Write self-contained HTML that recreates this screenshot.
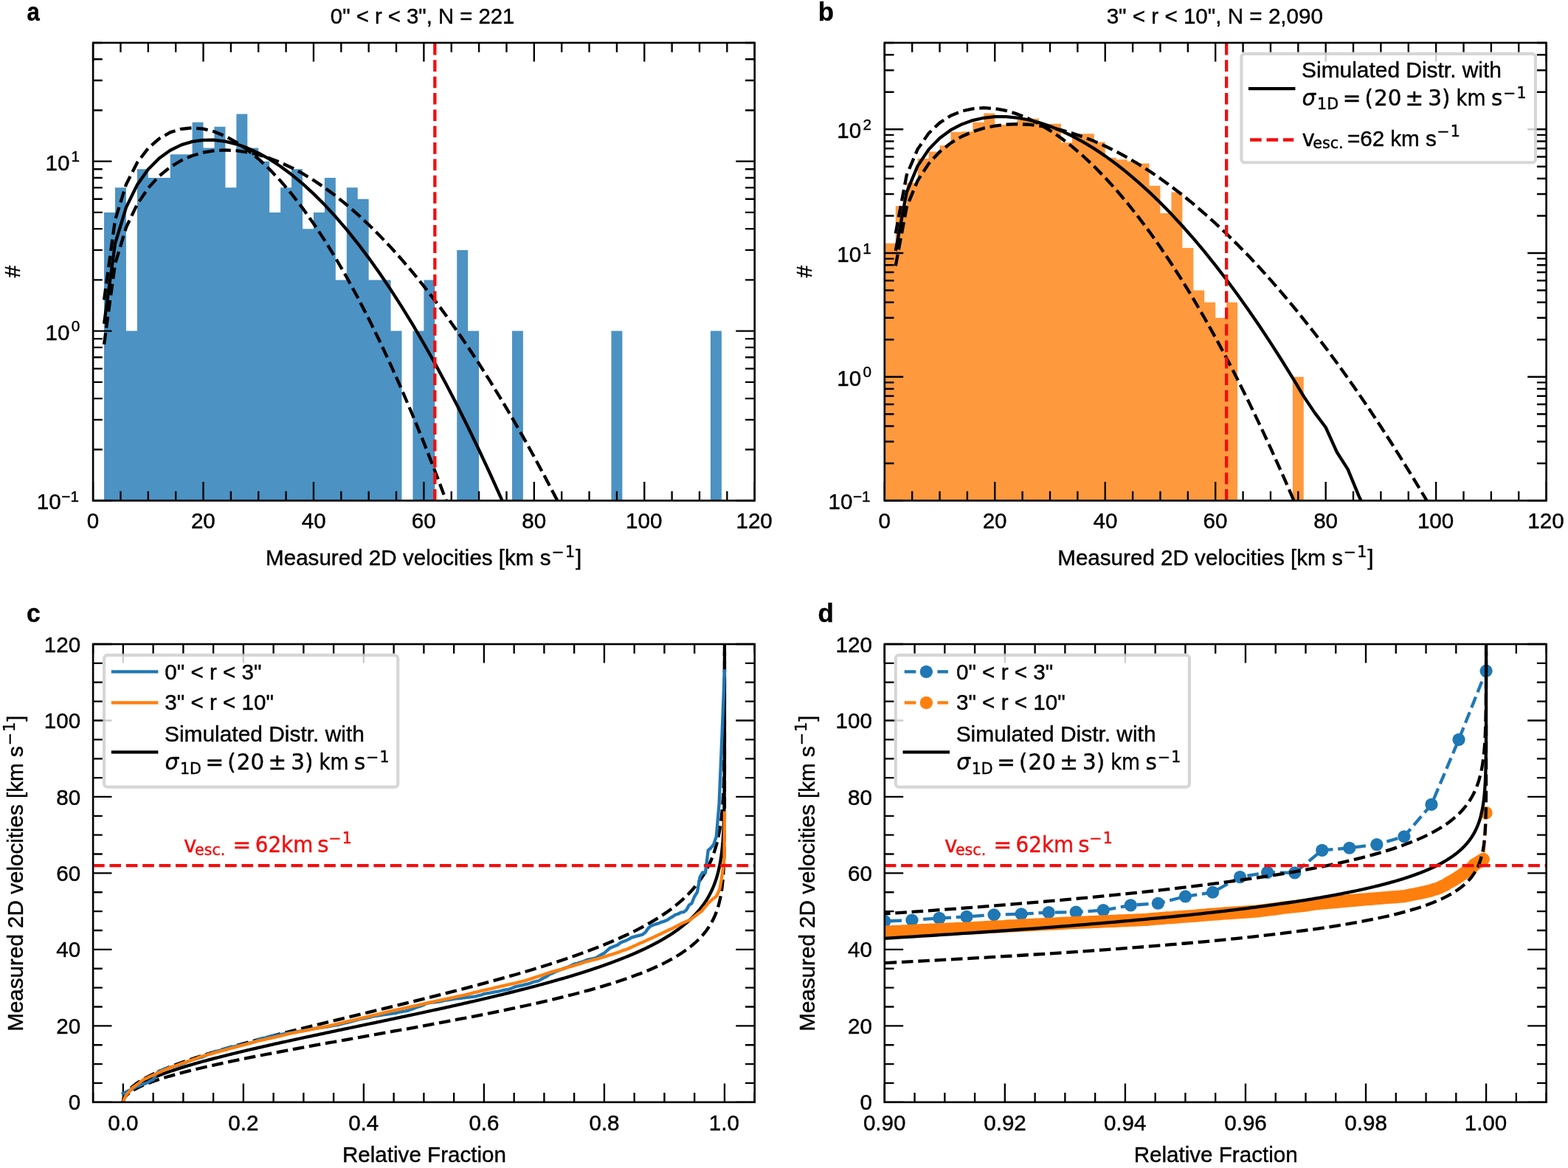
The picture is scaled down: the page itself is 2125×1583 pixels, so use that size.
<!DOCTYPE html>
<html lang="en"><head><meta charset="utf-8"><title>Velocity distributions</title>
<style>html,body{margin:0;padding:0;background:#fff}svg{display:block}text{white-space:pre;stroke:#000;stroke-width:.42px;stroke-linejoin:round}</style></head><body>
<svg width="2125" height="1583" viewBox="0 0 2125 1583" role="img" aria-label="Measured 2D velocity distributions and cumulative fractions">
<rect width="2125" height="1583" fill="#fff"/>
<defs>
<clipPath id="ca"><rect x="126.1" y="58" width="896.6" height="620.5"/></clipPath>
<clipPath id="cb"><rect x="1198.8" y="58" width="896.8" height="620.5"/></clipPath>
<clipPath id="cc"><rect x="126.1" y="873" width="896.6" height="620.8"/></clipPath>
<clipPath id="cd"><rect x="1198.8" y="873" width="896.8" height="620.8"/></clipPath>
</defs>
<path d="M141.04 678.5V287.9H155.99V678.5ZM155.99 678.5V254.31H170.93V678.5ZM170.93 678.5V448.6H185.87V678.5ZM185.87 678.5V229.21H200.82V678.5ZM200.82 678.5V240.97H215.76V678.5ZM215.76 678.5V240.97H230.7V678.5ZM230.7 678.5V209.18H245.65V678.5ZM245.65 678.5V209.18H260.59V678.5ZM260.59 678.5V165.71H275.53V678.5ZM275.53 678.5V200.49H290.48V678.5ZM290.48 678.5V171.77H305.42V678.5ZM305.42 678.5V254.31H320.36V678.5ZM320.36 678.5V154.61H335.31V678.5ZM335.31 678.5V200.49H350.25V678.5ZM350.25 678.5V218.69H365.19V678.5ZM365.19 678.5V287.9H380.14V678.5ZM380.14 678.5V254.31H395.08V678.5ZM395.08 678.5V229.21H410.02V678.5ZM410.02 678.5V310.18H424.97V678.5ZM424.97 678.5V287.9H439.91V678.5ZM439.91 678.5V240.97H454.85V678.5ZM454.85 678.5V379.39H469.8V678.5ZM469.8 678.5V254.31H484.74V678.5ZM484.74 678.5V269.7H499.68V678.5ZM499.68 678.5V379.39H514.63V678.5ZM514.63 678.5V379.39H529.57V678.5ZM529.57 678.5V448.6H544.51V678.5ZM559.46 678.5V448.6H574.4V678.5ZM574.4 678.5V379.39H589.34V678.5ZM619.23 678.5V338.91H634.17V678.5ZM634.17 678.5V448.6H649.12V678.5ZM693.95 678.5V448.6H708.89V678.5ZM828.44 678.5V448.6H843.38V678.5ZM962.93 678.5V448.6H977.87V678.5Z" fill="#4c92c3" clip-path="url(#ca)"/>
<path d="M126.1 678.5v-25.4M126.1 58v25.4M275.53 678.5v-25.4M275.53 58v25.4M424.97 678.5v-25.4M424.97 58v25.4M574.4 678.5v-25.4M574.4 58v25.4M723.83 678.5v-25.4M723.83 58v25.4M873.27 678.5v-25.4M873.27 58v25.4M1022.7 678.5v-25.4M1022.7 58v25.4M163.46 678.5v-12.7M163.46 58v12.7M200.82 678.5v-12.7M200.82 58v12.7M238.18 678.5v-12.7M238.18 58v12.7M312.89 678.5v-12.7M312.89 58v12.7M350.25 678.5v-12.7M350.25 58v12.7M387.61 678.5v-12.7M387.61 58v12.7M462.33 678.5v-12.7M462.33 58v12.7M499.68 678.5v-12.7M499.68 58v12.7M537.04 678.5v-12.7M537.04 58v12.7M611.76 678.5v-12.7M611.76 58v12.7M649.12 678.5v-12.7M649.12 58v12.7M686.48 678.5v-12.7M686.48 58v12.7M761.19 678.5v-12.7M761.19 58v12.7M798.55 678.5v-12.7M798.55 58v12.7M835.91 678.5v-12.7M835.91 58v12.7M910.62 678.5v-12.7M910.62 58v12.7M947.98 678.5v-12.7M947.98 58v12.7M985.34 678.5v-12.7M985.34 58v12.7M126.1 678.5h25.4M1022.7 678.5h-25.4M126.1 448.6h25.4M1022.7 448.6h-25.4M126.1 218.69h25.4M1022.7 218.69h-25.4M126.1 609.29h12.7M1022.7 609.29h-12.7M126.1 568.81h12.7M1022.7 568.81h-12.7M126.1 540.08h12.7M1022.7 540.08h-12.7M126.1 517.81h12.7M1022.7 517.81h-12.7M126.1 499.6h12.7M1022.7 499.6h-12.7M126.1 484.21h12.7M1022.7 484.21h-12.7M126.1 470.88h12.7M1022.7 470.88h-12.7M126.1 459.12h12.7M1022.7 459.12h-12.7M126.1 379.39h12.7M1022.7 379.39h-12.7M126.1 338.91h12.7M1022.7 338.91h-12.7M126.1 310.18h12.7M1022.7 310.18h-12.7M126.1 287.9h12.7M1022.7 287.9h-12.7M126.1 269.7h12.7M1022.7 269.7h-12.7M126.1 254.31h12.7M1022.7 254.31h-12.7M126.1 240.97h12.7M1022.7 240.97h-12.7M126.1 229.21h12.7M1022.7 229.21h-12.7M126.1 149.49h12.7M1022.7 149.49h-12.7M126.1 109h12.7M1022.7 109h-12.7M126.1 80.28h12.7M1022.7 80.28h-12.7M126.1 58h12.7M1022.7 58h-12.7" stroke="#000" stroke-width="2.35" fill="none"/>
<path d="M141.04 406.52L155.99 298.21L170.93 249.97L185.87 220.51L200.82 200.94L215.76 187.81L230.7 179.41L245.65 174.78L260.59 173.33L275.53 174.65L290.48 178.46L305.42 184.56L320.36 192.8L335.31 203.06L350.25 215.25L365.19 229.29L380.14 245.14L395.08 262.73L410.02 282.03L424.97 303L439.91 325.61L454.85 349.84L469.8 375.67L484.74 403.08L499.68 432.05L514.63 462.56L529.57 494.61L544.51 528.18L559.46 563.26L574.4 599.85L589.34 637.93L604.29 677.5L619.23 718.55L634.17 761.08L649.12 805.07L664.06 850.53L679 897.45L693.95 945.83L708.89 995.65L723.83 1046.93L738.78 1099.64" fill="none" stroke="#000" stroke-width="4.3" stroke-linecap="butt" stroke-linejoin="round" stroke-dasharray="15.61 6.76" clip-path="url(#ca)"/>
<path d="M141.04 466.73L155.99 357.79L170.93 308.29L185.87 276.96L200.82 254.89L215.76 238.62L230.7 226.47L245.65 217.47L260.59 211L275.53 206.69L290.48 204.24L305.42 203.46L320.36 204.19L335.31 206.31L350.25 209.74L365.19 214.4L380.14 220.23L395.08 227.18L410.02 235.21L424.97 244.29L439.91 254.39L454.85 265.48L469.8 277.54L484.74 290.55L499.68 304.5L514.63 319.36L529.57 335.14L544.51 351.81L559.46 369.37L574.4 387.81L589.34 407.12L604.29 427.28L619.23 448.31L634.17 470.18L649.12 492.9L664.06 516.45L679 540.84L693.95 566.06L708.89 592.1L723.83 618.97L738.78 646.65L753.72 675.15L768.66 704.46L783.61 734.58L798.55 765.51L813.49 797.24L828.44 829.78L843.38 863.12L858.32 897.25L873.27 932.19L888.21 967.91L903.15 1004.44L918.1 1041.75L933.04 1079.85L947.98 1118.75" fill="none" stroke="#000" stroke-width="4.3" stroke-linecap="butt" stroke-linejoin="round" stroke-dasharray="15.61 6.76" clip-path="url(#ca)"/>
<path d="M141.04 438.88L155.99 330.18L170.93 281.18L185.87 250.57L200.82 229.47L215.76 214.42L230.7 203.73L245.65 196.42L260.59 191.91L275.53 189.78L290.48 189.77L305.42 191.66L320.36 195.3L335.31 200.59L350.25 207.42L365.19 215.72L380.14 225.44L395.08 236.53L410.02 248.94L424.97 262.64L439.91 277.6L454.85 293.79L469.8 311.2L484.74 329.8L499.68 349.58L514.63 370.53L529.57 392.63L544.51 415.87L559.46 440.23L574.4 465.72L589.34 492.32L604.29 520.03L619.23 548.83L634.17 578.73L649.12 609.71L664.06 641.77L679 674.91L693.95 709.13L708.89 739.54L723.83 766.8L738.78 812.35L753.72 844.43L768.66 894.18L783.61 936.73L798.55 978.36L813.49 1021.03L828.44 1064.75L843.38 1109.51" fill="none" stroke="#000" stroke-width="4.3" stroke-linecap="butt" stroke-linejoin="round" clip-path="url(#ca)"/>
<path d="M589.34 678.5V58" stroke="#f20d0d" stroke-width="4.3" stroke-dasharray="15.61 6.76" fill="none"/>
<rect x="126.1" y="58" width="896.6" height="620.5" fill="none" stroke="#000" stroke-width="2.6"/>
<path d="M1198.8 678.5V329.72H1213.75V678.5ZM1213.75 678.5V279.22H1228.69V678.5ZM1228.69 678.5V247.69H1243.64V678.5ZM1243.64 678.5V214.94H1258.59V678.5ZM1258.59 678.5V205.52H1273.53V678.5ZM1273.53 678.5V197.19H1288.48V678.5ZM1288.48 678.5V178.99H1303.43V678.5ZM1303.43 678.5V178.23H1318.37V678.5ZM1318.37 678.5V165.71H1333.32V678.5ZM1333.32 678.5V153.39H1348.27V678.5ZM1348.27 678.5V168.97H1363.21V678.5ZM1363.21 678.5V168.31H1378.16V678.5ZM1378.16 678.5V162.58H1393.11V678.5ZM1393.11 678.5V160.76H1408.05V678.5ZM1408.05 678.5V168.31H1423V678.5ZM1423 678.5V167.65H1437.95V678.5ZM1437.95 678.5V193.35H1452.89V678.5ZM1452.89 678.5V181.33H1467.84V678.5ZM1467.84 678.5V181.33H1482.79V678.5ZM1482.79 678.5V192.42H1497.73V678.5ZM1497.73 678.5V213.69H1512.68V678.5ZM1512.68 678.5V216.2H1527.63V678.5ZM1527.63 678.5V218.81H1542.57V678.5ZM1542.57 678.5V221.5H1557.52V678.5ZM1557.52 678.5V251.73H1572.47V678.5ZM1572.47 678.5V288.95H1587.41V678.5ZM1587.41 678.5V260.58H1602.36V678.5ZM1602.36 678.5V336.06H1617.31V678.5ZM1617.31 678.5V393.5H1632.25V678.5ZM1632.25 678.5V409.76H1647.2V678.5ZM1647.2 678.5V430.71H1662.15V678.5ZM1662.15 678.5V409.76H1677.09V678.5ZM1751.83 678.5V510.75H1766.77V678.5Z" fill="#ff993e" clip-path="url(#cb)"/>
<path d="M1198.8 678.5v-25.4M1198.8 58v25.4M1348.27 678.5v-25.4M1348.27 58v25.4M1497.73 678.5v-25.4M1497.73 58v25.4M1647.2 678.5v-25.4M1647.2 58v25.4M1796.67 678.5v-25.4M1796.67 58v25.4M1946.13 678.5v-25.4M1946.13 58v25.4M2095.6 678.5v-25.4M2095.6 58v25.4M1236.17 678.5v-12.7M1236.17 58v12.7M1273.53 678.5v-12.7M1273.53 58v12.7M1310.9 678.5v-12.7M1310.9 58v12.7M1385.63 678.5v-12.7M1385.63 58v12.7M1423 678.5v-12.7M1423 58v12.7M1460.37 678.5v-12.7M1460.37 58v12.7M1535.1 678.5v-12.7M1535.1 58v12.7M1572.47 678.5v-12.7M1572.47 58v12.7M1609.83 678.5v-12.7M1609.83 58v12.7M1684.57 678.5v-12.7M1684.57 58v12.7M1721.93 678.5v-12.7M1721.93 58v12.7M1759.3 678.5v-12.7M1759.3 58v12.7M1834.03 678.5v-12.7M1834.03 58v12.7M1871.4 678.5v-12.7M1871.4 58v12.7M1908.77 678.5v-12.7M1908.77 58v12.7M1983.5 678.5v-12.7M1983.5 58v12.7M2020.87 678.5v-12.7M2020.87 58v12.7M2058.23 678.5v-12.7M2058.23 58v12.7M1198.8 678.5h25.4M2095.6 678.5h-25.4M1198.8 510.75h25.4M2095.6 510.75h-25.4M1198.8 343h25.4M2095.6 343h-25.4M1198.8 175.25h25.4M2095.6 175.25h-25.4M1198.8 628h12.7M2095.6 628h-12.7M1198.8 598.46h12.7M2095.6 598.46h-12.7M1198.8 577.5h12.7M2095.6 577.5h-12.7M1198.8 561.25h12.7M2095.6 561.25h-12.7M1198.8 547.97h12.7M2095.6 547.97h-12.7M1198.8 536.74h12.7M2095.6 536.74h-12.7M1198.8 527.01h12.7M2095.6 527.01h-12.7M1198.8 518.43h12.7M2095.6 518.43h-12.7M1198.8 460.25h12.7M2095.6 460.25h-12.7M1198.8 430.71h12.7M2095.6 430.71h-12.7M1198.8 409.76h12.7M2095.6 409.76h-12.7M1198.8 393.5h12.7M2095.6 393.5h-12.7M1198.8 380.22h12.7M2095.6 380.22h-12.7M1198.8 368.99h12.7M2095.6 368.99h-12.7M1198.8 359.26h12.7M2095.6 359.26h-12.7M1198.8 350.68h12.7M2095.6 350.68h-12.7M1198.8 292.5h12.7M2095.6 292.5h-12.7M1198.8 262.96h12.7M2095.6 262.96h-12.7M1198.8 242.01h12.7M2095.6 242.01h-12.7M1198.8 225.75h12.7M2095.6 225.75h-12.7M1198.8 212.47h12.7M2095.6 212.47h-12.7M1198.8 201.24h12.7M2095.6 201.24h-12.7M1198.8 191.51h12.7M2095.6 191.51h-12.7M1198.8 182.93h12.7M2095.6 182.93h-12.7M1198.8 124.75h12.7M2095.6 124.75h-12.7M1198.8 95.21h12.7M2095.6 95.21h-12.7M1198.8 74.26h12.7M2095.6 74.26h-12.7M1198.8 58h12.7M2095.6 58h-12.7" stroke="#000" stroke-width="2.35" fill="none"/>
<path d="M1213.75 316.37L1228.69 237.34L1243.64 202.14L1258.59 180.64L1273.53 166.36L1288.48 156.78L1303.43 150.65L1318.37 147.28L1333.32 146.22L1348.27 147.18L1363.21 149.96L1378.16 154.41L1393.11 160.42L1408.05 167.91L1423 176.8L1437.95 187.05L1452.89 198.61L1467.84 211.45L1482.79 225.53L1497.73 240.83L1512.68 257.33L1527.63 275.01L1542.57 293.86L1557.52 313.85L1572.47 334.99L1587.41 357.26L1602.36 380.64L1617.31 405.14L1632.25 430.73L1647.2 457.43L1662.15 485.22L1677.09 514.09L1692.04 544.04L1706.99 575.07L1721.93 607.17L1736.88 640.34L1751.83 674.58L1766.77 709.87L1781.72 746.23L1796.67 783.64L1811.61 822.11L1826.56 861.63L1841.51 902.19L1856.45 943.81L1871.4 986.47" fill="none" stroke="#000" stroke-width="4.3" stroke-linecap="butt" stroke-linejoin="round" stroke-dasharray="15.61 6.76" clip-path="url(#cb)"/>
<path d="M1213.75 360.3L1228.69 280.81L1243.64 244.7L1258.59 221.83L1273.53 205.73L1288.48 193.86L1303.43 184.99L1318.37 178.42L1333.32 173.71L1348.27 170.56L1363.21 168.77L1378.16 168.2L1393.11 168.73L1408.05 170.28L1423 172.78L1437.95 176.18L1452.89 180.44L1467.84 185.51L1482.79 191.37L1497.73 198L1512.68 205.36L1527.63 213.45L1542.57 222.25L1557.52 231.75L1572.47 241.92L1587.41 252.77L1602.36 264.28L1617.31 276.45L1632.25 289.26L1647.2 302.71L1662.15 316.8L1677.09 331.52L1692.04 346.86L1706.99 362.82L1721.93 379.39L1736.88 396.58L1751.83 414.37L1766.77 432.77L1781.72 451.78L1796.67 471.38L1811.61 491.58L1826.56 512.37L1841.51 533.76L1856.45 555.74L1871.4 578.31L1886.35 601.46L1901.29 625.2L1916.24 649.53L1931.19 674.43L1946.13 699.92L1961.08 725.99L1976.03 752.64L1990.97 779.86L2005.92 807.67L2020.87 836.05L2035.81 865L2050.76 894.53L2065.71 924.63L2080.65 955.31L2095.6 986.55" fill="none" stroke="#000" stroke-width="4.3" stroke-linecap="butt" stroke-linejoin="round" stroke-dasharray="15.61 6.76" clip-path="url(#cb)"/>
<path d="M1213.75 339.98L1228.69 260.67L1243.64 224.91L1258.59 202.58L1273.53 187.18L1288.48 176.2L1303.43 168.4L1318.37 163.07L1333.32 159.77L1348.27 158.22L1363.21 158.21L1378.16 159.59L1393.11 162.25L1408.05 166.11L1423 171.09L1437.95 177.15L1452.89 184.24L1467.84 192.33L1482.79 201.39L1497.73 211.38L1512.68 222.3L1527.63 234.11L1542.57 246.81L1557.52 260.39L1572.47 274.82L1587.41 290.11L1602.36 306.23L1617.31 323.19L1632.25 340.96L1647.2 359.56L1662.15 378.97L1677.09 399.19L1692.04 420.2L1706.99 442.02L1721.93 464.62L1736.88 488.02L1751.83 512.2L1766.77 537.16L1781.72 559.35L1796.67 579.25L1811.61 612.48L1826.56 635.89L1841.51 672.19L1856.45 703.24L1871.4 733.61L1886.35 764.75L1901.29 796.65L1916.24 829.31L1931.19 862.73L1946.13 896.91L1961.08 931.85L1976.03 967.55L1990.97 1004" fill="none" stroke="#000" stroke-width="4.3" stroke-linecap="butt" stroke-linejoin="round" clip-path="url(#cb)"/>
<path d="M1662.15 678.5V58" stroke="#f20d0d" stroke-width="4.3" stroke-dasharray="15.61 6.76" fill="none"/>
<rect x="1198.8" y="58" width="896.8" height="620.5" fill="none" stroke="#000" stroke-width="2.6"/>
<path d="M166.85 1493.8v-25.4M166.85 873v25.4M329.87 1493.8v-25.4M329.87 873v25.4M492.89 1493.8v-25.4M492.89 873v25.4M655.91 1493.8v-25.4M655.91 873v25.4M818.93 1493.8v-25.4M818.93 873v25.4M981.95 1493.8v-25.4M981.95 873v25.4M126.1 1493.8v-12.7M126.1 873v12.7M207.61 1493.8v-12.7M207.61 873v12.7M248.36 1493.8v-12.7M248.36 873v12.7M289.12 1493.8v-12.7M289.12 873v12.7M370.63 1493.8v-12.7M370.63 873v12.7M411.38 1493.8v-12.7M411.38 873v12.7M452.14 1493.8v-12.7M452.14 873v12.7M533.65 1493.8v-12.7M533.65 873v12.7M574.4 1493.8v-12.7M574.4 873v12.7M615.15 1493.8v-12.7M615.15 873v12.7M696.66 1493.8v-12.7M696.66 873v12.7M737.42 1493.8v-12.7M737.42 873v12.7M778.17 1493.8v-12.7M778.17 873v12.7M859.68 1493.8v-12.7M859.68 873v12.7M900.44 1493.8v-12.7M900.44 873v12.7M941.19 1493.8v-12.7M941.19 873v12.7M1022.7 1493.8v-12.7M1022.7 873v12.7M126.1 1493.8h25.4M1022.7 1493.8h-25.4M126.1 1390.33h25.4M1022.7 1390.33h-25.4M126.1 1286.87h25.4M1022.7 1286.87h-25.4M126.1 1183.4h25.4M1022.7 1183.4h-25.4M126.1 1079.93h25.4M1022.7 1079.93h-25.4M126.1 976.47h25.4M1022.7 976.47h-25.4M126.1 873h25.4M1022.7 873h-25.4M126.1 1467.93h12.7M1022.7 1467.93h-12.7M126.1 1442.07h12.7M1022.7 1442.07h-12.7M126.1 1416.2h12.7M1022.7 1416.2h-12.7M126.1 1364.47h12.7M1022.7 1364.47h-12.7M126.1 1338.6h12.7M1022.7 1338.6h-12.7M126.1 1312.73h12.7M1022.7 1312.73h-12.7M126.1 1261h12.7M1022.7 1261h-12.7M126.1 1235.13h12.7M1022.7 1235.13h-12.7M126.1 1209.27h12.7M1022.7 1209.27h-12.7M126.1 1157.53h12.7M1022.7 1157.53h-12.7M126.1 1131.67h12.7M1022.7 1131.67h-12.7M126.1 1105.8h12.7M1022.7 1105.8h-12.7M126.1 1054.07h12.7M1022.7 1054.07h-12.7M126.1 1028.2h12.7M1022.7 1028.2h-12.7M126.1 1002.33h12.7M1022.7 1002.33h-12.7M126.1 950.6h12.7M1022.7 950.6h-12.7M126.1 924.73h12.7M1022.7 924.73h-12.7M126.1 898.87h12.7M1022.7 898.87h-12.7" stroke="#000" stroke-width="2.35" fill="none"/>
<g clip-path="url(#cc)">
<path d="M166.85 1493.8L166.88 1493.06L166.97 1492.32L167.11 1491.58L167.31 1490.84L167.57 1490.1L167.89 1489.37L168.26 1488.63L168.69 1487.89L169.18 1487.15L169.73 1486.41L170.33 1485.67L170.99 1484.93L171.7 1484.19L172.48 1483.45L173.3 1482.71L174.19 1481.98L175.13 1481.24L176.13 1480.5L177.18 1479.76L178.29 1479.02L179.45 1478.28L180.67 1477.54L181.94 1476.8L183.26 1476.06L184.64 1475.32L186.08 1474.58L187.57 1473.85L189.11 1473.11L190.7 1472.37L192.35 1471.63L194.05 1470.89L195.8 1470.15L197.6 1469.41L199.45 1468.67L201.36 1467.93L203.31 1467.19L205.32 1466.46L207.37 1465.72L209.47 1464.98L211.63 1464.24L213.83 1463.5L216.07 1462.76L218.37 1462.02L220.71 1461.28L223.1 1460.54L225.53 1459.8L228.01 1459.06L230.54 1458.33L233.11 1457.59L235.72 1456.85L238.38 1456.11L241.07 1455.37L243.82 1454.63L246.6 1453.89L249.42 1453.15L252.29 1452.41L255.19 1451.67L258.14 1450.94L261.12 1450.2L264.15 1449.46L267.21 1448.72L270.3 1447.98L273.44 1447.24L276.61 1446.5L279.81 1445.76L283.05 1445.02L286.33 1444.28L289.64 1443.54L292.98 1442.81L296.35 1442.07L299.75 1441.33L303.19 1440.59L306.66 1439.85L310.15 1439.11L313.68 1438.37L317.23 1437.63L320.81 1436.89L324.42 1436.15L328.05 1435.42L331.71 1434.68L335.4 1433.94L339.11 1433.2L342.85 1432.46L346.6 1431.72L350.38 1430.98L354.18 1430.24L358.01 1429.5L361.85 1428.76L365.71 1428.02L369.6 1427.29L373.5 1426.55L377.42 1425.81L381.35 1425.07L385.3 1424.33L389.27 1423.59L393.26 1422.85L397.25 1422.11L401.27 1421.37L405.29 1420.63L409.33 1419.9L413.38 1419.16L417.44 1418.42L421.51 1417.68L425.59 1416.94L429.68 1416.2L433.78 1415.46L437.89 1414.72L442 1413.98L446.12 1413.24L450.25 1412.5L454.38 1411.77L458.52 1411.03L462.66 1410.29L466.81 1409.55L470.96 1408.81L475.11 1408.07L479.26 1407.33L483.41 1406.59L487.57 1405.85L491.72 1405.11L495.88 1404.38L500.03 1403.64L504.18 1402.9L508.33 1402.16L512.47 1401.42L516.62 1400.68L520.75 1399.94L524.89 1399.2L529.02 1398.46L533.14 1397.72L537.26 1396.98L541.37 1396.25L545.47 1395.51L549.57 1394.77L553.65 1394.03L557.73 1393.29L561.8 1392.55L565.86 1391.81L569.91 1391.07L573.95 1390.33L577.98 1389.59L581.99 1388.86L586 1388.12L589.99 1387.38L593.97 1386.64L597.94 1385.9L601.89 1385.16L605.83 1384.42L609.75 1383.68L613.66 1382.94L617.55 1382.2L621.43 1381.46L625.29 1380.73L629.14 1379.99L632.96 1379.25L636.78 1378.51L640.57 1377.77L644.34 1377.03L648.1 1376.29L651.84 1375.55L655.56 1374.81L659.26 1374.07L662.94 1373.34L666.61 1372.6L670.25 1371.86L673.87 1371.12L677.47 1370.38L681.05 1369.64L684.61 1368.9L688.15 1368.16L691.66 1367.42L695.16 1366.68L698.63 1365.94L702.08 1365.21L705.51 1364.47L708.91 1363.73L712.29 1362.99L715.65 1362.25L718.99 1361.51L722.3 1360.77L725.59 1360.03L728.85 1359.29L732.1 1358.55L735.31 1357.82L738.5 1357.08L741.67 1356.34L744.82 1355.6L747.94 1354.86L751.03 1354.12L754.1 1353.38L757.14 1352.64L760.16 1351.9L763.16 1351.16L766.13 1350.42L769.07 1349.69L771.99 1348.95L774.88 1348.21L777.75 1347.47L780.59 1346.73L783.41 1345.99L786.2 1345.25L788.97 1344.51L791.71 1343.77L794.42 1343.03L797.11 1342.3L799.77 1341.56L802.41 1340.82L805.02 1340.08L807.61 1339.34L810.17 1338.6L812.7 1337.86L815.21 1337.12L817.69 1336.38L820.15 1335.64L822.58 1334.9L824.99 1334.17L827.37 1333.43L829.73 1332.69L832.06 1331.95L834.36 1331.21L836.64 1330.47L838.9 1329.73L841.13 1328.99L843.33 1328.25L845.51 1327.51L847.67 1326.78L849.8 1326.04L851.91 1325.3L853.99 1324.56L856.04 1323.82L858.08 1323.08L860.09 1322.34L862.07 1321.6L864.03 1320.86L865.97 1320.12L867.88 1319.38L869.77 1318.65L871.63 1317.91L873.48 1317.17L875.3 1316.43L877.09 1315.69L878.87 1314.95L880.62 1314.21L882.34 1313.47L884.05 1312.73L885.73 1311.99L887.39 1311.26L889.03 1310.52L890.65 1309.78L892.24 1309.04L893.81 1308.3L895.36 1307.56L896.89 1306.82L898.4 1306.08L899.89 1305.34L901.36 1304.6L902.8 1303.86L904.23 1303.13L905.64 1302.39L907.02 1301.65L908.39 1300.91L909.73 1300.17L911.06 1299.43L912.37 1298.69L913.65 1297.95L914.92 1297.21L916.17 1296.47L917.4 1295.74L918.62 1295L919.81 1294.26L920.98 1293.52L922.14 1292.78L923.28 1292.04L924.4 1291.3L925.51 1290.56L926.6 1289.82L927.67 1289.08L928.72 1288.34L929.76 1287.61L930.78 1286.87L931.78 1286.13L932.77 1285.39L933.74 1284.65L934.69 1283.91L935.63 1283.17L936.56 1282.43L937.47 1281.69L938.36 1280.95L939.24 1280.22L940.1 1279.48L940.95 1278.74L941.79 1278L942.61 1277.26L943.42 1276.52L944.21 1275.78L944.99 1275.04L945.76 1274.3L946.51 1273.56L947.25 1272.82L947.97 1272.09L948.69 1271.35L949.39 1270.61L950.07 1269.87L950.75 1269.13L951.41 1268.39L952.07 1267.65L952.71 1266.91L953.33 1266.17L953.95 1265.43L954.56 1264.7L955.15 1263.96L955.73 1263.22L956.3 1262.48L956.87 1261.74L957.42 1261L957.96 1260.26L958.49 1259.52L959.01 1258.78L959.52 1258.04L960.02 1257.3L960.51 1256.57L960.99 1255.83L961.46 1255.09L961.92 1254.35L962.38 1253.61L962.82 1252.87L963.26 1252.13L963.69 1251.39L964.1 1250.65L964.51 1249.91L964.92 1249.18L965.31 1248.44L965.7 1247.7L966.08 1246.96L966.45 1246.22L966.81 1245.48L967.16 1244.74L967.51 1244L967.85 1243.26L968.19 1242.52L968.51 1241.78L968.83 1241.05L969.15 1240.31L969.45 1239.57L969.75 1238.83L970.05 1238.09L970.34 1237.35L970.62 1236.61L970.89 1235.87L971.16 1235.13L971.43 1234.39L971.68 1233.66L971.94 1232.92L972.18 1232.18L972.42 1231.44L972.66 1230.7L972.89 1229.96L973.12 1229.22L973.34 1228.48L973.55 1227.74L973.76 1227L973.97 1226.26L974.17 1225.53L974.37 1224.79L974.56 1224.05L974.75 1223.31L974.93 1222.57L975.11 1221.83L975.29 1221.09L975.46 1220.35L975.63 1219.61L975.79 1218.87L975.95 1218.14L976.11 1217.4L976.26 1216.66L976.41 1215.92L976.55 1215.18L976.69 1214.44L976.83 1213.7L976.97 1212.96L977.1 1212.22L977.23 1211.48L977.36 1210.74L977.48 1210.01L977.6 1209.27L977.71 1208.53L977.83 1207.79L977.94 1207.05L978.05 1206.31L978.15 1205.57L978.26 1204.83L978.36 1204.09L978.46 1203.35L978.55 1202.62L978.64 1201.88L978.74 1201.14L978.82 1200.4L978.91 1199.66L978.99 1198.92L979.08 1198.18L979.16 1197.44L979.23 1196.7L979.31 1195.96L979.38 1195.22L979.46 1194.49L979.53 1193.75L979.6 1193.01L979.66 1192.27L979.73 1191.53L979.79 1190.79L979.85 1190.05L979.91 1189.31L979.97 1188.57L980.03 1187.83L980.08 1187.1L980.14 1186.36L980.19 1185.62L980.24 1184.88L980.29 1184.14L980.34 1183.4L980.38 1182.66L980.43 1181.92L980.47 1181.18L980.52 1180.44L980.56 1179.7L980.6 1178.97L980.64 1178.23L980.68 1177.49L980.72 1176.75L980.75 1176.01L980.79 1175.27L980.82 1174.53L980.86 1173.79L980.89 1173.05L980.92 1172.31L980.95 1171.58L980.98 1170.84L981.01 1170.1L981.04 1169.36L981.07 1168.62L981.1 1167.88L981.12 1167.14L981.15 1166.4L981.17 1165.66L981.2 1164.92L981.22 1164.18L981.24 1163.45L981.26 1162.71L981.29 1161.97L981.31 1161.23L981.33 1160.49L981.35 1159.75L981.36 1159.01L981.38 1158.27L981.4 1157.53L981.42 1156.79L981.43 1156.06L981.45 1155.32L981.47 1154.58L981.48 1153.84L981.5 1153.1L981.51 1152.36L981.52 1151.62L981.54 1150.88L981.55 1150.14L981.56 1149.4L981.58 1148.66L981.59 1147.93L981.6 1147.19L981.61 1146.45L981.62 1145.71L981.63 1144.97L981.64 1144.23L981.65 1143.49L981.66 1142.75L981.67 1142.01L981.68 1141.27L981.69 1140.54L981.7 1139.8L981.71 1139.06L981.71 1138.32L981.72 1137.58L981.73 1136.84L981.74 1136.1L981.74 1135.36L981.75 1134.62L981.76 1133.88L981.76 1133.14L981.77 1132.41L981.78 1131.67L981.78 1130.93L981.79 1130.19L981.79 1129.45L981.8 1128.71L981.8 1127.97L981.81 1127.23L981.81 1126.49L981.82 1125.75L981.82 1125.02L981.83 1124.28L981.83 1123.54L981.83 1122.8L981.84 1122.06L981.84 1121.32L981.85 1120.58L981.85 1119.84L981.85 1119.1L981.86 1118.36L981.86 1117.62L981.86 1116.89L981.86 1116.15L981.87 1115.41L981.87 1114.67L981.87 1113.93L981.88 1113.19L981.88 1112.45L981.88 1111.71L981.88 1110.97L981.89 1110.23L981.89 1109.5L981.89 1108.76L981.89 1108.02L981.89 1107.28L981.9 1106.54L981.9 1105.8L981.9 1105.06L981.9 1104.32L981.9 1103.58L981.9 1102.84L981.91 1102.1L981.91 1101.37L981.91 1100.63L981.91 1099.89L981.91 1099.15L981.91 1098.41L981.91 1097.67L981.91 1096.93L981.92 1096.19L981.92 1095.45L981.92 1094.71L981.92 1093.98L981.92 1093.24L981.92 1092.5L981.92 1091.76L981.92 1091.02L981.92 1090.28L981.92 1089.54L981.93 1088.8L981.93 1088.06L981.93 1087.32L981.93 1086.58L981.93 1085.85L981.93 1085.11L981.93 1084.37L981.93 1083.63L981.93 1082.89L981.93 1082.15L981.93 1081.41L981.93 1080.67L981.93 1079.93L981.93 1079.19L981.93 1078.46L981.93 1077.72L981.93 1076.98L981.94 1076.24L981.94 1075.5L981.94 1074.76L981.94 1074.02L981.94 1073.28L981.94 1072.54L981.94 1071.8L981.94 1071.06L981.94 1070.33L981.94 1069.59L981.94 1068.85L981.94 1068.11L981.94 1067.37L981.94 1066.63L981.94 1065.89L981.94 1065.15L981.94 1064.41L981.94 1063.67L981.94 1062.94L981.94 1062.2L981.94 1061.46L981.94 1060.72L981.94 1059.98L981.94 1059.24L981.94 1058.5L981.94 1057.76L981.94 1057.02L981.94 1056.28L981.94 1055.54L981.94 1054.81L981.94 1054.07L981.94 1053.33L981.94 1052.59L981.94 1051.85L981.94 1051.11L981.94 1050.37L981.94 1049.63L981.94 1048.89L981.94 1048.15L981.94 1047.42L981.94 1046.68L981.94 1045.94L981.94 1045.2L981.94 1044.46L981.94 1043.72L981.94 1042.98L981.94 1042.24L981.94 1041.5L981.94 1040.76L981.94 1040.02L981.94 1039.29L981.94 1038.55L981.94 1037.81L981.94 1037.07L981.94 1036.33L981.94 1035.59L981.94 1034.85L981.94 1034.11L981.94 1033.37L981.94 1032.63L981.94 1031.9L981.94 1031.16L981.94 1030.42L981.94 1029.68L981.94 1028.94L981.94 1028.2L981.94 1027.46L981.94 1026.72L981.94 1025.98L981.94 1025.24L981.94 1024.5L981.94 1023.77L981.94 1023.03L981.94 1022.29L981.95 1021.55L981.95 1020.81L981.95 1020.07L981.95 1019.33L981.95 1018.59L981.95 1017.85L981.95 1017.11L981.95 1016.38L981.95 1015.64L981.95 1014.9L981.95 1014.16L981.95 1013.42L981.95 1012.68L981.95 1011.94L981.95 1011.2L981.95 1010.46L981.95 1009.72L981.95 1008.98L981.95 1008.25L981.95 1007.51L981.95 1006.77L981.95 1006.03L981.95 1005.29L981.95 1004.55L981.95 1003.81L981.95 1003.07L981.95 1002.33L981.95 1001.59L981.95 1000.86L981.95 1000.12L981.95 999.38L981.95 998.64L981.95 997.9L981.95 997.16L981.95 996.42L981.95 995.68L981.95 994.94L981.95 994.2L981.95 993.46L981.95 992.73L981.95 991.99L981.95 991.25L981.95 990.51L981.95 989.77L981.95 989.03L981.95 988.29L981.95 987.55L981.95 986.81L981.95 986.07L981.95 985.34L981.95 984.6L981.95 983.86L981.95 983.12L981.95 982.38L981.95 981.64L981.95 980.9L981.95 980.16L981.95 979.42L981.95 978.68L981.95 977.94L981.95 977.21L981.95 976.47" fill="none" stroke="#000" stroke-width="4.3" stroke-linecap="butt" stroke-linejoin="round" stroke-dasharray="15.61 6.76"/>
<path d="M166.85 1493.8L166.88 1492.8L166.97 1491.8L167.11 1490.81L167.31 1489.81L167.57 1488.81L167.89 1487.81L168.26 1486.82L168.69 1485.82L169.17 1484.82L169.71 1483.82L170.31 1482.83L170.97 1481.83L171.68 1480.83L172.45 1479.83L173.28 1478.83L174.16 1477.84L175.09 1476.84L176.09 1475.84L177.13 1474.84L178.24 1473.85L179.39 1472.85L180.61 1471.85L181.87 1470.85L183.19 1469.85L184.57 1468.86L186 1467.86L187.48 1466.86L189.01 1465.86L190.6 1464.87L192.24 1463.87L193.93 1462.87L195.67 1461.87L197.47 1460.88L199.32 1459.88L201.21 1458.88L203.16 1457.88L205.15 1456.88L207.2 1455.89L209.29 1454.89L211.44 1453.89L213.63 1452.89L215.87 1451.9L218.15 1450.9L220.48 1449.9L222.86 1448.9L225.29 1447.91L227.76 1446.91L230.27 1445.91L232.83 1444.91L235.43 1443.91L238.08 1442.92L240.77 1441.92L243.5 1440.92L246.27 1439.92L249.08 1438.93L251.94 1437.93L254.83 1436.93L257.77 1435.93L260.74 1434.93L263.75 1433.94L266.8 1432.94L269.88 1431.94L273.01 1430.94L276.16 1429.95L279.36 1428.95L282.59 1427.95L285.85 1426.95L289.14 1425.96L292.47 1424.96L295.83 1423.96L299.23 1422.96L302.65 1421.96L306.1 1420.97L309.59 1419.97L313.1 1418.97L316.64 1417.97L320.21 1416.98L323.81 1415.98L327.43 1414.98L331.08 1413.98L334.75 1412.99L338.45 1411.99L342.17 1410.99L345.91 1409.99L349.68 1408.99L353.47 1408L357.28 1407L361.11 1406L364.96 1405L368.84 1404.01L372.72 1403.01L376.63 1402.01L380.55 1401.01L384.5 1400.01L388.45 1399.02L392.42 1398.02L396.41 1397.02L400.41 1396.02L404.42 1395.03L408.45 1394.03L412.49 1393.03L416.54 1392.03L420.6 1391.04L424.67 1390.04L428.75 1389.04L432.84 1388.04L436.93 1387.04L441.04 1386.05L445.15 1385.05L449.26 1384.05L453.39 1383.05L457.51 1382.06L461.64 1381.06L465.78 1380.06L469.92 1379.06L474.06 1378.07L478.2 1377.07L482.35 1376.07L486.49 1375.07L490.64 1374.07L494.78 1373.08L498.93 1372.08L503.07 1371.08L507.21 1370.08L511.35 1369.09L515.48 1368.09L519.61 1367.09L523.74 1366.09L527.86 1365.09L531.97 1364.1L536.08 1363.1L540.19 1362.1L544.28 1361.1L548.37 1360.11L552.45 1359.11L556.53 1358.11L560.59 1357.11L564.64 1356.12L568.69 1355.12L572.72 1354.12L576.74 1353.12L580.75 1352.12L584.75 1351.13L588.74 1350.13L592.72 1349.13L596.68 1348.13L600.63 1347.14L604.56 1346.14L608.48 1345.14L612.38 1344.14L616.27 1343.15L620.15 1342.15L624.01 1341.15L627.85 1340.15L631.68 1339.15L635.48 1338.16L639.28 1337.16L643.05 1336.16L646.81 1335.16L650.54 1334.17L654.26 1333.17L657.96 1332.17L661.64 1331.17L665.3 1330.17L668.94 1329.18L672.57 1328.18L676.17 1327.18L679.75 1326.18L683.3 1325.19L686.84 1324.19L690.36 1323.19L693.85 1322.19L697.33 1321.2L700.78 1320.2L704.21 1319.2L707.61 1318.2L711 1317.2L714.36 1316.21L717.69 1315.21L721.01 1314.21L724.3 1313.21L727.57 1312.22L730.81 1311.22L734.03 1310.22L737.22 1309.22L740.39 1308.23L743.54 1307.23L746.66 1306.23L749.76 1305.23L752.83 1304.23L755.88 1303.24L758.91 1302.24L761.9 1301.24L764.88 1300.24L767.83 1299.25L770.75 1298.25L773.65 1297.25L776.52 1296.25L779.37 1295.25L782.19 1294.26L784.98 1293.26L787.76 1292.26L790.5 1291.26L793.22 1290.27L795.91 1289.27L798.58 1288.27L801.23 1287.27L803.84 1286.28L806.43 1285.28L809 1284.28L811.54 1283.28L814.06 1282.28L816.55 1281.29L819.01 1280.29L821.45 1279.29L823.86 1278.29L826.25 1277.3L828.61 1276.3L830.95 1275.3L833.26 1274.3L835.55 1273.31L837.81 1272.31L840.05 1271.31L842.26 1270.31L844.45 1269.31L846.61 1268.32L848.75 1267.32L850.87 1266.32L852.95 1265.32L855.02 1264.33L857.06 1263.33L859.08 1262.33L861.07 1261.33L863.04 1260.33L864.98 1259.34L866.9 1258.34L868.8 1257.34L870.67 1256.34L872.52 1255.35L874.35 1254.35L876.15 1253.35L877.94 1252.35L879.69 1251.36L881.43 1250.36L883.14 1249.36L884.83 1248.36L886.5 1247.36L888.15 1246.37L889.77 1245.37L891.38 1244.37L892.96 1243.37L894.52 1242.38L896.06 1241.38L897.57 1240.38L899.07 1239.38L900.54 1238.39L902 1237.39L903.43 1236.39L904.85 1235.39L906.24 1234.39L907.62 1233.4L908.97 1232.4L910.3 1231.4L911.62 1230.4L912.92 1229.41L914.19 1228.41L915.45 1227.41L916.69 1226.41L917.91 1225.41L919.11 1224.42L920.29 1223.42L921.46 1222.42L922.61 1221.42L923.74 1220.43L924.85 1219.43L925.95 1218.43L927.02 1217.43L928.09 1216.44L929.13 1215.44L930.16 1214.44L931.17 1213.44L932.16 1212.44L933.14 1211.45L934.11 1210.45L935.05 1209.45L935.99 1208.45L936.9 1207.46L937.8 1206.46L938.69 1205.46L939.56 1204.46L940.42 1203.47L941.26 1202.47L942.09 1201.47L942.9 1200.47L943.7 1199.47L944.49 1198.48L945.26 1197.48L946.02 1196.48L946.77 1195.48L947.5 1194.49L948.22 1193.49L948.93 1192.49L949.62 1191.49L950.31 1190.49L950.98 1189.5L951.63 1188.5L952.28 1187.5L952.91 1186.5L953.54 1185.51L954.15 1184.51L954.75 1183.51L955.34 1182.51L955.92 1181.52L956.48 1180.52L957.04 1179.52L957.59 1178.52L958.12 1177.52L958.65 1176.53L959.17 1175.53L959.67 1174.53L960.17 1173.53L960.65 1172.54L961.13 1171.54L961.6 1170.54L962.06 1169.54L962.51 1168.55L962.95 1167.55L963.38 1166.55L963.81 1165.55L964.22 1164.55L964.63 1163.56L965.03 1162.56L965.42 1161.56L965.8 1160.56L966.18 1159.57L966.54 1158.57L966.9 1157.57L967.26 1156.57L967.6 1155.57L967.94 1154.58L968.27 1153.58L968.6 1152.58L968.91 1151.58L969.23 1150.59L969.53 1149.59L969.83 1148.59L970.12 1147.59L970.4 1146.6L970.68 1145.6L970.96 1144.6L971.22 1143.6L971.49 1142.6L971.74 1141.61L971.99 1140.61L972.24 1139.61L972.48 1138.61L972.71 1137.62L972.94 1136.62L973.17 1135.62L973.38 1134.62L973.6 1133.63L973.81 1132.63L974.01 1131.63L974.21 1130.63L974.41 1129.63L974.6 1128.64L974.79 1127.64L974.97 1126.64L975.15 1125.64L975.32 1124.65L975.49 1123.65L975.66 1122.65L975.82 1121.65L975.98 1120.65L976.14 1119.66L976.29 1118.66L976.43 1117.66L976.58 1116.66L976.72 1115.67L976.86 1114.67L976.99 1113.67L977.12 1112.67L977.25 1111.68L977.38 1110.68L977.5 1109.68L977.62 1108.68L977.73 1107.68L977.85 1106.69L977.96 1105.69L978.06 1104.69L978.17 1103.69L978.27 1102.7L978.37 1101.7L978.47 1100.7L978.56 1099.7L978.66 1098.71L978.75 1097.71L978.84 1096.71L978.92 1095.71L979.01 1094.71L979.09 1093.72L979.17 1092.72L979.24 1091.72L979.32 1090.72L979.39 1089.73L979.46 1088.73L979.53 1087.73L979.6 1086.73L979.67 1085.73L979.73 1084.74L979.8 1083.74L979.86 1082.74L979.92 1081.74L979.98 1080.75L980.03 1079.75L980.09 1078.75L980.14 1077.75L980.19 1076.76L980.24 1075.76L980.29 1074.76L980.34 1073.76L980.39 1072.76L980.43 1071.77L980.48 1070.77L980.52 1069.77L980.56 1068.77L980.6 1067.78L980.64 1066.78L980.68 1065.78L980.72 1064.78L980.76 1063.79L980.79 1062.79L980.83 1061.79L980.86 1060.79L980.89 1059.79L980.92 1058.8L980.96 1057.8L980.99 1056.8L981.01 1055.8L981.04 1054.81L981.07 1053.81L981.1 1052.81L981.12 1051.81L981.15 1050.81L981.17 1049.82L981.2 1048.82L981.22 1047.82L981.24 1046.82L981.26 1045.83L981.29 1044.83L981.31 1043.83L981.33 1042.83L981.35 1041.84L981.36 1040.84L981.38 1039.84L981.4 1038.84L981.42 1037.84L981.43 1036.85L981.45 1035.85L981.47 1034.85L981.48 1033.85L981.5 1032.86L981.51 1031.86L981.52 1030.86L981.54 1029.86L981.55 1028.87L981.56 1027.87L981.58 1026.87L981.59 1025.87L981.6 1024.87L981.61 1023.88L981.62 1022.88L981.63 1021.88L981.64 1020.88L981.65 1019.89L981.66 1018.89L981.67 1017.89L981.68 1016.89L981.69 1015.89L981.7 1014.9L981.71 1013.9L981.71 1012.9L981.72 1011.9L981.73 1010.91L981.74 1009.91L981.74 1008.91L981.75 1007.91L981.76 1006.92L981.76 1005.92L981.77 1004.92L981.78 1003.92L981.78 1002.92L981.79 1001.93L981.79 1000.93L981.8 999.93L981.8 998.93L981.81 997.94L981.81 996.94L981.82 995.94L981.82 994.94L981.83 993.95L981.83 992.95L981.83 991.95L981.84 990.95L981.84 989.95L981.84 988.96L981.85 987.96L981.85 986.96L981.86 985.96L981.86 984.97L981.86 983.97L981.86 982.97L981.87 981.97L981.87 980.97L981.87 979.98L981.88 978.98L981.88 977.98L981.88 976.98L981.88 975.99L981.88 974.99L981.89 973.99L981.89 972.99L981.89 972L981.89 971L981.89 970L981.9 969L981.9 968L981.9 967.01L981.9 966.01L981.9 965.01L981.91 964.01L981.91 963.02L981.91 962.02L981.91 961.02L981.91 960.02L981.91 959.03L981.91 958.03L981.91 957.03L981.92 956.03L981.92 955.03L981.92 954.04L981.92 953.04L981.92 952.04L981.92 951.04L981.92 950.05L981.92 949.05L981.92 948.05L981.92 947.05L981.93 946.05L981.93 945.06L981.93 944.06L981.93 943.06L981.93 942.06L981.93 941.07L981.93 940.07L981.93 939.07L981.93 938.07L981.93 937.08L981.93 936.08L981.93 935.08L981.93 934.08L981.93 933.08L981.93 932.09L981.93 931.09L981.93 930.09L981.93 929.09L981.94 928.1L981.94 927.1L981.94 926.1L981.94 925.1L981.94 924.11L981.94 923.11L981.94 922.11L981.94 921.11L981.94 920.11L981.94 919.12L981.94 918.12L981.94 917.12L981.94 916.12L981.94 915.13L981.94 914.13L981.94 913.13L981.94 912.13L981.94 911.13L981.94 910.14L981.94 909.14L981.94 908.14L981.94 907.14L981.94 906.15L981.94 905.15L981.94 904.15L981.94 903.15L981.94 902.16L981.94 901.16L981.94 900.16L981.94 899.16L981.94 898.16L981.94 897.17L981.94 896.17L981.94 895.17L981.94 894.17L981.94 893.18L981.94 892.18L981.94 891.18L981.94 890.18L981.94 889.19L981.94 888.19L981.94 887.19L981.94 886.19L981.94 885.19L981.94 884.2L981.94 883.2L981.94 882.2L981.94 881.2L981.94 880.21L981.94 879.21L981.94 878.21L981.94 877.21L981.94 876.21L981.94 875.22L981.94 874.22L981.94 873.22L981.94 872.22L981.94 871.23L981.94 870.23L981.94 869.23L981.94 868.23L981.94 867.24L981.94 866.24L981.94 865.24L981.94 864.24L981.94 863.24L981.94 862.25L981.94 861.25L981.94 860.25L981.94 859.25L981.94 858.26L981.94 857.26L981.94 856.26L981.94 855.26L981.95 854.27L981.95 853.27L981.95 852.27L981.95 851.27L981.95 850.27L981.95 849.28L981.95 848.28L981.95 847.28L981.95 846.28L981.95 845.29L981.95 844.29L981.95 843.29L981.95 842.29L981.95 841.29L981.95 840.3L981.95 839.3L981.95 838.3L981.95 837.3L981.95 836.31L981.95 835.31L981.95 834.31L981.95 833.31L981.95 832.32L981.95 831.32L981.95 830.32L981.95 829.32L981.95 828.32L981.95 827.33L981.95 826.33L981.95 825.33L981.95 824.33L981.95 823.34L981.95 822.34L981.95 821.34L981.95 820.34L981.95 819.35L981.95 818.35L981.95 817.35L981.95 816.35L981.95 815.35L981.95 814.36L981.95 813.36L981.95 812.36L981.95 811.36L981.95 810.37L981.95 809.37L981.95 808.37L981.95 807.37L981.95 806.37L981.95 805.38L981.95 804.38L981.95 803.38L981.95 802.38L981.95 801.39L981.95 800.39L981.95 799.39L981.95 798.39L981.95 797.4L981.95 796.4L981.95 795.4" fill="none" stroke="#000" stroke-width="4.3" stroke-linecap="butt" stroke-linejoin="round" stroke-dasharray="15.61 6.76"/>
<path d="M166.85 1493.8L166.88 1492.93L166.97 1492.06L167.11 1491.19L167.31 1490.32L167.57 1489.45L167.89 1488.59L168.26 1487.72L168.69 1486.85L169.18 1485.98L169.73 1485.11L170.33 1484.24L170.98 1483.37L171.7 1482.5L172.47 1481.63L173.3 1480.76L174.18 1479.89L175.12 1479.02L176.12 1478.16L177.17 1477.29L178.28 1476.42L179.44 1475.55L180.65 1474.68L181.93 1473.81L183.25 1472.94L184.63 1472.07L186.06 1471.2L187.55 1470.33L189.09 1469.46L190.68 1468.6L192.33 1467.73L194.03 1466.86L195.78 1465.99L197.58 1465.12L199.43 1464.25L201.33 1463.38L203.28 1462.51L205.29 1461.64L207.34 1460.77L209.44 1459.9L211.59 1459.04L213.79 1458.17L216.03 1457.3L218.33 1456.43L220.67 1455.56L223.05 1454.69L225.49 1453.82L227.97 1452.95L230.49 1452.08L233.06 1451.21L235.67 1450.34L238.32 1449.47L241.02 1448.61L243.76 1447.74L246.54 1446.87L249.36 1446L252.22 1445.13L255.13 1444.26L258.07 1443.39L261.05 1442.52L264.07 1441.65L267.13 1440.78L270.23 1439.91L273.36 1439.05L276.53 1438.18L279.73 1437.31L282.97 1436.44L286.24 1435.57L289.54 1434.7L292.88 1433.83L296.25 1432.96L299.66 1432.09L303.09 1431.22L306.55 1430.35L310.05 1429.49L313.57 1428.62L317.12 1427.75L320.7 1426.88L324.31 1426.01L327.94 1425.14L331.6 1424.27L335.28 1423.4L338.99 1422.53L342.72 1421.66L346.48 1420.79L350.25 1419.92L354.05 1419.06L357.87 1418.19L361.71 1417.32L365.58 1416.45L369.46 1415.58L373.35 1414.71L377.27 1413.84L381.21 1412.97L385.16 1412.1L389.12 1411.23L393.1 1410.36L397.1 1409.5L401.11 1408.63L405.13 1407.76L409.17 1406.89L413.21 1406.02L417.27 1405.15L421.34 1404.28L425.42 1403.41L429.51 1402.54L433.61 1401.67L437.71 1400.8L441.82 1399.94L445.94 1399.07L450.07 1398.2L454.2 1397.33L458.34 1396.46L462.48 1395.59L466.62 1394.72L470.77 1393.85L474.91 1392.98L479.07 1392.11L483.22 1391.24L487.37 1390.37L491.52 1389.51L495.67 1388.64L499.83 1387.77L503.98 1386.9L508.12 1386.03L512.27 1385.16L516.41 1384.29L520.54 1383.42L524.68 1382.55L528.8 1381.68L532.93 1380.81L537.04 1379.95L541.15 1379.08L545.25 1378.21L549.35 1377.34L553.43 1376.47L557.51 1375.6L561.58 1374.73L565.64 1373.86L569.69 1372.99L573.72 1372.12L577.75 1371.25L581.77 1370.38L585.77 1369.52L589.76 1368.65L593.74 1367.78L597.7 1366.91L601.66 1366.04L605.59 1365.17L609.52 1364.3L613.42 1363.43L617.32 1362.56L621.19 1361.69L625.05 1360.82L628.9 1359.96L632.73 1359.09L636.54 1358.22L640.33 1357.35L644.11 1356.48L647.86 1355.61L651.6 1354.74L655.32 1353.87L659.02 1353L662.7 1352.13L666.37 1351.26L670.01 1350.4L673.63 1349.53L677.23 1348.66L680.81 1347.79L684.37 1346.92L687.91 1346.05L691.42 1345.18L694.92 1344.31L698.39 1343.44L701.84 1342.57L705.27 1341.7L708.67 1340.83L712.06 1339.97L715.42 1339.1L718.75 1338.23L722.06 1337.36L725.35 1336.49L728.62 1335.62L731.86 1334.75L735.08 1333.88L738.27 1333.01L741.44 1332.14L744.58 1331.27L747.7 1330.41L750.8 1329.54L753.87 1328.67L756.91 1327.8L759.93 1326.93L762.93 1326.06L765.9 1325.19L768.84 1324.32L771.76 1323.45L774.66 1322.58L777.52 1321.71L780.37 1320.85L783.19 1319.98L785.98 1319.11L788.74 1318.24L791.48 1317.37L794.2 1316.5L796.89 1315.63L799.55 1314.76L802.19 1313.89L804.8 1313.02L807.39 1312.15L809.95 1311.28L812.49 1310.42L815 1309.55L817.48 1308.68L819.94 1307.81L822.38 1306.94L824.78 1306.07L827.17 1305.2L829.52 1304.33L831.86 1303.46L834.16 1302.59L836.44 1301.72L838.7 1300.86L840.93 1299.99L843.14 1299.12L845.32 1298.25L847.48 1297.38L849.61 1296.51L851.72 1295.64L853.8 1294.77L855.86 1293.9L857.89 1293.03L859.9 1292.16L861.89 1291.3L863.85 1290.43L865.79 1289.56L867.7 1288.69L869.59 1287.82L871.46 1286.95L873.3 1286.08L875.12 1285.21L876.92 1284.34L878.69 1283.47L880.45 1282.6L882.18 1281.73L883.88 1280.87L885.57 1280L887.23 1279.13L888.87 1278.26L890.49 1277.39L892.08 1276.52L893.66 1275.65L895.21 1274.78L896.74 1273.91L898.25 1273.04L899.74 1272.17L901.21 1271.31L902.66 1270.44L904.08 1269.57L905.49 1268.7L906.88 1267.83L908.25 1266.96L909.59 1266.09L910.92 1265.22L912.23 1264.35L913.52 1263.48L914.79 1262.61L916.04 1261.74L917.27 1260.88L918.49 1260.01L919.68 1259.14L920.86 1258.27L922.02 1257.4L923.16 1256.53L924.28 1255.66L925.39 1254.79L926.48 1253.92L927.55 1253.05L928.6 1252.18L929.64 1251.32L930.66 1250.45L931.67 1249.58L932.66 1248.71L933.63 1247.84L934.59 1246.97L935.53 1246.1L936.45 1245.23L937.36 1244.36L938.26 1243.49L939.14 1242.62L940 1241.76L940.86 1240.89L941.69 1240.02L942.51 1239.15L943.32 1238.28L944.12 1237.41L944.9 1236.54L945.66 1235.67L946.42 1234.8L947.16 1233.93L947.89 1233.06L948.6 1232.19L949.3 1231.33L949.99 1230.46L950.67 1229.59L951.33 1228.72L951.99 1227.85L952.63 1226.98L953.26 1226.11L953.87 1225.24L954.48 1224.37L955.08 1223.5L955.66 1222.63L956.23 1221.77L956.8 1220.9L957.35 1220.03L957.89 1219.16L958.42 1218.29L958.94 1217.42L959.45 1216.55L959.95 1215.68L960.45 1214.81L960.93 1213.94L961.4 1213.07L961.87 1212.21L962.32 1211.34L962.77 1210.47L963.2 1209.6L963.63 1208.73L964.05 1207.86L964.46 1206.99L964.86 1206.12L965.26 1205.25L965.65 1204.38L966.03 1203.51L966.4 1202.64L966.76 1201.78L967.12 1200.91L967.47 1200.04L967.81 1199.17L968.14 1198.3L968.47 1197.43L968.79 1196.56L969.1 1195.69L969.41 1194.82L969.71 1193.95L970.01 1193.08L970.3 1192.22L970.58 1191.35L970.85 1190.48L971.12 1189.61L971.39 1188.74L971.65 1187.87L971.9 1187L972.15 1186.13L972.39 1185.26L972.63 1184.39L972.86 1183.52L973.08 1182.66L973.31 1181.79L973.52 1180.92L973.73 1180.05L973.94 1179.18L974.14 1178.31L974.34 1177.44L974.53 1176.57L974.72 1175.7L974.91 1174.83L975.09 1173.96L975.26 1173.09L975.43 1172.23L975.6 1171.36L975.77 1170.49L975.93 1169.62L976.08 1168.75L976.24 1167.88L976.39 1167.01L976.53 1166.14L976.67 1165.27L976.81 1164.4L976.95 1163.53L977.08 1162.67L977.21 1161.8L977.34 1160.93L977.46 1160.06L977.58 1159.19L977.7 1158.32L977.81 1157.45L977.92 1156.58L978.03 1155.71L978.14 1154.84L978.24 1153.97L978.34 1153.1L978.44 1152.24L978.54 1151.37L978.63 1150.5L978.72 1149.63L978.81 1148.76L978.9 1147.89L978.98 1147.02L979.06 1146.15L979.14 1145.28L979.22 1144.41L979.3 1143.54L979.37 1142.68L979.44 1141.81L979.52 1140.94L979.58 1140.07L979.65 1139.2L979.72 1138.33L979.78 1137.46L979.84 1136.59L979.9 1135.72L979.96 1134.85L980.02 1133.98L980.07 1133.12L980.13 1132.25L980.18 1131.38L980.23 1130.51L980.28 1129.64L980.33 1128.77L980.38 1127.9L980.42 1127.03L980.47 1126.16L980.51 1125.29L980.55 1124.42L980.59 1123.55L980.63 1122.69L980.67 1121.82L980.71 1120.95L980.75 1120.08L980.78 1119.21L980.82 1118.34L980.85 1117.47L980.89 1116.6L980.92 1115.73L980.95 1114.86L980.98 1113.99L981.01 1113.13L981.04 1112.26L981.06 1111.39L981.09 1110.52L981.12 1109.65L981.14 1108.78L981.17 1107.91L981.19 1107.04L981.22 1106.17L981.24 1105.3L981.26 1104.43L981.28 1103.57L981.3 1102.7L981.32 1101.83L981.34 1100.96L981.36 1100.09L981.38 1099.22L981.4 1098.35L981.41 1097.48L981.43 1096.61L981.45 1095.74L981.46 1094.87L981.48 1094L981.49 1093.14L981.51 1092.27L981.52 1091.4L981.54 1090.53L981.55 1089.66L981.56 1088.79L981.57 1087.92L981.59 1087.05L981.6 1086.18L981.61 1085.31L981.62 1084.44L981.63 1083.58L981.64 1082.71L981.65 1081.84L981.66 1080.97L981.67 1080.1L981.68 1079.23L981.69 1078.36L981.7 1077.49L981.7 1076.62L981.71 1075.75L981.72 1074.88L981.73 1074.02L981.74 1073.15L981.74 1072.28L981.75 1071.41L981.76 1070.54L981.76 1069.67L981.77 1068.8L981.77 1067.93L981.78 1067.06L981.79 1066.19L981.79 1065.32L981.8 1064.45L981.8 1063.59L981.81 1062.72L981.81 1061.85L981.82 1060.98L981.82 1060.11L981.83 1059.24L981.83 1058.37L981.83 1057.5L981.84 1056.63L981.84 1055.76L981.84 1054.89L981.85 1054.03L981.85 1053.16L981.85 1052.29L981.86 1051.42L981.86 1050.55L981.86 1049.68L981.87 1048.81L981.87 1047.94L981.87 1047.07L981.88 1046.2L981.88 1045.33L981.88 1044.46L981.88 1043.6L981.88 1042.73L981.89 1041.86L981.89 1040.99L981.89 1040.12L981.89 1039.25L981.89 1038.38L981.9 1037.51L981.9 1036.64L981.9 1035.77L981.9 1034.9L981.9 1034.04L981.9 1033.17L981.91 1032.3L981.91 1031.43L981.91 1030.56L981.91 1029.69L981.91 1028.82L981.91 1027.95L981.91 1027.08L981.92 1026.21L981.92 1025.34L981.92 1024.48L981.92 1023.61L981.92 1022.74L981.92 1021.87L981.92 1021L981.92 1020.13L981.92 1019.26L981.92 1018.39L981.93 1017.52L981.93 1016.65L981.93 1015.78L981.93 1014.91L981.93 1014.05L981.93 1013.18L981.93 1012.31L981.93 1011.44L981.93 1010.57L981.93 1009.7L981.93 1008.83L981.93 1007.96L981.93 1007.09L981.93 1006.22L981.93 1005.35L981.93 1004.49L981.93 1003.62L981.93 1002.75L981.94 1001.88L981.94 1001.01L981.94 1000.14L981.94 999.27L981.94 998.4L981.94 997.53L981.94 996.66L981.94 995.79L981.94 994.93L981.94 994.06L981.94 993.19L981.94 992.32L981.94 991.45L981.94 990.58L981.94 989.71L981.94 988.84L981.94 987.97L981.94 987.1L981.94 986.23L981.94 985.36L981.94 984.5L981.94 983.63L981.94 982.76L981.94 981.89L981.94 981.02L981.94 980.15L981.94 979.28L981.94 978.41L981.94 977.54L981.94 976.67L981.94 975.8L981.94 974.94L981.94 974.07L981.94 973.2L981.94 972.33L981.94 971.46L981.94 970.59L981.94 969.72L981.94 968.85L981.94 967.98L981.94 967.11L981.94 966.24L981.94 965.38L981.94 964.51L981.94 963.64L981.94 962.77L981.94 961.9L981.94 961.03L981.94 960.16L981.94 959.29L981.94 958.42L981.94 957.55L981.94 956.68L981.94 955.81L981.94 954.95L981.94 954.08L981.94 953.21L981.94 952.34L981.94 951.47L981.94 950.6L981.94 949.73L981.94 948.86L981.94 947.99L981.94 947.12L981.94 946.25L981.94 945.39L981.94 944.52L981.94 943.65L981.94 942.78L981.94 941.91L981.94 941.04L981.94 940.17L981.94 939.3L981.95 938.43L981.95 937.56L981.95 936.69L981.95 935.82L981.95 934.96L981.95 934.09L981.95 933.22L981.95 932.35L981.95 931.48L981.95 930.61L981.95 929.74L981.95 928.87L981.95 928L981.95 927.13L981.95 926.26L981.95 925.4L981.95 924.53L981.95 923.66L981.95 922.79L981.95 921.92L981.95 921.05L981.95 920.18L981.95 919.31L981.95 918.44L981.95 917.57L981.95 916.7L981.95 915.84L981.95 914.97L981.95 914.1L981.95 913.23L981.95 912.36L981.95 911.49L981.95 910.62L981.95 909.75L981.95 908.88L981.95 908.01L981.95 907.14L981.95 906.27L981.95 905.41L981.95 904.54L981.95 903.67L981.95 902.8L981.95 901.93L981.95 901.06L981.95 900.19L981.95 899.32L981.95 898.45L981.95 897.58L981.95 896.71L981.95 895.85L981.95 894.98L981.95 894.11L981.95 893.24L981.95 892.37L981.95 891.5L981.95 890.63L981.95 889.76L981.95 888.89L981.95 888.02L981.95 887.15L981.95 886.29L981.95 885.42" fill="none" stroke="#000" stroke-width="4.3" stroke-linecap="square" stroke-linejoin="round"/>
<path d="M166.85 1481.99L170.56 1480.13L174.26 1478.14L177.97 1476.51L181.67 1474.99L185.38 1472.55L189.08 1471.35L192.79 1469.79L196.49 1468.68L200.2 1466.99L203.9 1464.82L207.61 1463.29L211.31 1456.54L215.02 1451.81L218.72 1450.74L222.43 1448.92L226.13 1447.97L229.84 1446.82L233.54 1446L237.25 1445.1L240.95 1444.08L244.66 1442.88L248.36 1441.52L252.07 1439.77L255.77 1438.34L259.48 1437.06L263.18 1435.76L266.89 1434.73L270.59 1433.5L274.3 1432.55L278 1430.96L281.71 1429.14L285.41 1428.08L289.12 1426.33L292.82 1425.16L296.53 1424.01L300.23 1422.98L303.94 1422.03L307.64 1420.62L311.35 1419.71L315.05 1418.79L318.76 1417.98L322.46 1417.21L326.17 1416.4L329.87 1415.52L333.58 1414.62L337.28 1413.96L340.99 1413.17L344.69 1411.46L348.4 1410.19L352.1 1408.27L355.81 1407.3L359.51 1406.61L363.22 1405.41L366.92 1404.73L370.63 1403.94L374.33 1403.28L378.04 1402.55L381.74 1401.78L385.45 1401.04L389.15 1400.33L392.86 1399.84L396.56 1399.34L400.27 1398.72L403.97 1398.11L407.68 1397.45L411.38 1397L415.09 1396.21L418.79 1395.28L422.5 1394.73L426.2 1393.99L429.91 1393.39L433.61 1392.87L437.32 1392.35L441.02 1391.85L444.73 1391.37L448.43 1390.58L452.14 1389.93L455.84 1389.29L459.55 1388.59L463.25 1387.61L466.96 1386.66L470.66 1385.99L474.37 1384.84L478.07 1383.95L481.78 1382.97L485.48 1381.87L489.19 1380.95L492.89 1380.29L496.6 1379.63L500.3 1378.82L504.01 1377.88L507.71 1377.23L511.42 1376.68L515.12 1376.07L518.83 1375.43L522.53 1374.86L526.24 1374.29L529.94 1373.79L533.65 1373.31L537.35 1372.78L541.06 1371.63L544.76 1371.09L548.47 1370.5L552.17 1369.99L555.88 1368.39L559.58 1367.15L563.29 1365.71L566.99 1364.44L570.7 1363.37L574.4 1361.71L578.1 1359.88L581.81 1359.07L585.51 1358.66L589.22 1358.27L592.92 1357.77L596.63 1357.39L600.33 1356.42L604.04 1355.72L607.74 1355.15L611.45 1354.61L615.15 1353.97L618.86 1353.49L622.56 1353L626.27 1352.58L629.97 1352.18L633.68 1351.67L637.38 1351.28L641.09 1350.81L644.79 1350.33L648.5 1349.25L652.2 1348.56L655.91 1347.11L659.61 1346.47L663.32 1345.84L667.02 1345.1L670.73 1344.48L674.43 1343.85L678.14 1343L681.84 1342.05L685.55 1341.37L689.25 1340.76L692.96 1339.61L696.66 1337.92L700.37 1336.93L704.07 1336.1L707.78 1335.32L711.48 1334.38L715.19 1333.62L718.89 1332.54L722.6 1331L726.3 1330.16L730.01 1329.22L733.71 1327L737.42 1325.04L741.12 1323.27L744.83 1320.6L748.53 1319.08L752.24 1317.01L755.94 1315.66L759.65 1314.27L763.35 1312.89L767.06 1311.61L770.76 1310.2L774.47 1308.43L778.17 1306.59L781.88 1305.76L785.58 1304.68L789.29 1303.67L792.99 1301.95L796.7 1300.63L800.4 1299.82L804.11 1299.02L807.81 1298.12L811.52 1295.91L815.22 1293.66L818.93 1291.78L822.63 1288.41L826.34 1285.07L830.04 1283.42L833.75 1281.95L837.45 1280.49L841.16 1277.49L844.86 1276.05L848.57 1274.68L852.27 1272.91L855.98 1270.62L859.68 1269.57L863.39 1268.61L867.09 1267.69L870.8 1266.67L874.5 1263.67L878.21 1258.43L881.91 1255.1L885.62 1253.57L889.32 1252.34L893.03 1251.15L896.73 1249.56L900.44 1248.58L904.14 1247.03L907.85 1244.45L911.55 1242.38L915.26 1239.79L918.96 1238.75L922.67 1236.69L926.37 1236.17L930.08 1233.58L933.78 1226.86L937.49 1224.27L941.19 1214.96L944.9 1209.27L948.6 1188.57L952.31 1182.37L956.01 1182.88L959.72 1152.36L963.42 1149.26L967.13 1144.6L970.83 1133.74L974.54 1090.28L978.24 1002.33L981.95 909.21" fill="none" stroke="#1f77b4" stroke-width="4.3" stroke-linecap="square" stroke-linejoin="round"/>
<path d="M166.85 1493.41L167.25 1492.54L167.64 1490.85L168.04 1489.75L168.43 1489.07L168.82 1488.18L169.22 1487.57L169.61 1486.81L170 1485.87L170.4 1485.2L170.79 1484.54L171.18 1483.93L171.58 1483.3L171.97 1482.96L172.36 1482.31L172.76 1481.97L173.15 1481.6L173.55 1481.14L173.94 1480.82L174.33 1480.52L174.73 1480.12L175.12 1479.72L175.51 1479.39L175.91 1478.53L176.3 1478.01L176.69 1477.69L177.09 1477.3L177.48 1476.86L177.87 1476.37L178.27 1475.8L178.66 1475.4L179.06 1474.86L179.45 1474.56L179.84 1474.12L180.24 1473.68L180.63 1473.31L181.02 1473L181.42 1472.78L181.81 1472.56L182.2 1472.35L182.6 1472.08L182.99 1471.85L183.38 1471.63L183.78 1471.19L184.17 1470.93L184.57 1470.69L184.96 1470.44L185.35 1470.22L185.75 1469.73L186.14 1469.53L186.53 1469.31L186.93 1469.09L187.32 1468.83L187.71 1468.56L188.11 1468.35L188.5 1467.8L188.89 1467.6L189.29 1467.1L189.68 1466.83L190.08 1466.4L190.47 1466.17L190.86 1465.93L191.26 1465.59L191.65 1465.38L192.04 1465.08L192.44 1464.79L192.83 1464.51L193.22 1464.17L193.62 1463.86L194.01 1463.63L194.4 1463.39L194.8 1463.16L195.19 1462.94L195.59 1462.6L195.98 1462.46L196.37 1462.3L196.77 1462.15L197.16 1461.96L197.55 1461.79L197.95 1461.62L198.34 1461.49L198.73 1461.29L199.13 1461.11L199.52 1460.99L199.91 1460.82L200.31 1460.65L200.7 1460.34L201.1 1460.03L201.49 1459.85L201.88 1459.72L202.28 1459.52L202.67 1459.39L203.06 1459.26L203.46 1459.1L203.85 1458.82L204.24 1458.64L204.64 1458.48L205.03 1458.29L205.42 1458.17L205.82 1458.04L206.21 1457.84L206.61 1457.69L207 1457.54L207.39 1457.32L207.79 1457.17L208.18 1457.01L208.57 1456.73L208.97 1456.56L209.36 1456.37L209.75 1456.06L210.15 1455.81L210.54 1455.68L210.93 1455.5L211.33 1455.3L211.72 1455.13L212.12 1454.98L212.51 1454.76L212.9 1454.6L213.3 1454.46L213.69 1454.31L214.08 1454.16L214.48 1453.86L214.87 1453.73L215.26 1453.59L215.66 1453.4L216.05 1453.27L216.44 1453.13L216.84 1452.92L217.23 1452.77L217.63 1452.61L218.02 1452.48L218.41 1452.32L218.81 1452.16L219.2 1451.86L219.59 1451.57L219.99 1451.4L220.38 1451.28L220.77 1450.92L221.17 1450.75L221.56 1450.61L221.95 1450.47L222.35 1450.35L222.74 1450.1L223.14 1449.96L223.53 1449.85L223.92 1449.7L224.32 1449.58L224.71 1449.43L225.1 1449.24L225.5 1449.08L225.89 1448.84L226.28 1448.68L226.68 1448.55L227.07 1448.39L227.46 1448.23L227.86 1448.08L228.25 1447.92L228.65 1447.7L229.04 1447.59L229.43 1447.35L229.83 1447.23L230.22 1447.09L230.61 1446.96L231.01 1446.84L231.4 1446.72L231.79 1446.57L232.19 1446.45L232.58 1446.32L232.97 1446.16L233.37 1446.04L233.76 1445.93L234.16 1445.81L234.55 1445.67L234.94 1445.52L235.34 1445.4L235.73 1445.26L236.12 1445.13L236.52 1444.95L236.91 1444.81L237.3 1444.69L237.7 1444.58L238.09 1444.45L238.48 1444.33L238.88 1444.21L239.27 1444.07L239.67 1443.9L240.06 1443.75L240.45 1443.62L240.85 1443.49L241.24 1443.3L241.63 1443.18L242.03 1442.86L242.42 1442.73L242.81 1442.59L243.21 1442.47L243.6 1442.31L243.99 1442.16L244.39 1442.02L244.78 1441.92L245.18 1441.71L245.57 1441.61L245.96 1441.5L246.36 1441.36L246.75 1441.14L247.14 1441L247.54 1440.88L247.93 1440.76L248.32 1440.62L248.72 1440.5L249.11 1440.4L249.5 1440.25L249.9 1440.08L250.29 1439.95L250.69 1439.77L251.08 1439.65L251.47 1439.55L251.87 1439.42L252.26 1439.25L252.65 1439.1L253.05 1438.98L253.44 1438.86L253.83 1438.68L254.23 1438.58L254.62 1438.42L255.02 1438.29L255.41 1438.13L255.8 1438.02L256.2 1437.91L256.59 1437.8L256.98 1437.71L257.38 1437.53L257.77 1437.42L258.16 1437.3L258.56 1437.19L258.95 1437.06L259.34 1436.93L259.74 1436.76L260.13 1436.64L260.53 1436.52L260.92 1436.38L261.31 1436.27L261.71 1436.02L262.1 1435.86L262.49 1435.76L262.89 1435.61L263.28 1435.49L263.67 1435.37L264.07 1435.27L264.46 1435.14L264.85 1435.03L265.25 1434.93L265.64 1434.82L266.04 1434.68L266.43 1434.58L266.82 1434.45L267.22 1434.32L267.61 1434.11L268 1433.62L268.4 1433.51L268.79 1433.37L269.18 1433.09L269.58 1432.98L269.97 1432.85L270.36 1432.72L270.76 1432.49L271.15 1432.39L271.55 1432.28L271.94 1432.16L272.33 1432.05L272.73 1431.93L273.12 1431.82L273.51 1431.64L273.91 1431.56L274.3 1431.45L274.69 1431.34L275.09 1431.24L275.48 1431.15L275.87 1431.05L276.27 1430.94L276.66 1430.86L277.06 1430.77L277.45 1430.58L277.84 1430.48L278.24 1430.35L278.63 1430.25L279.02 1430.15L279.42 1430.06L279.81 1429.98L280.2 1429.89L280.6 1429.7L280.99 1429.55L281.38 1429.44L281.78 1429.32L282.17 1429.22L282.57 1429.1L282.96 1429L283.35 1428.89L283.75 1428.79L284.14 1428.71L284.53 1428.64L284.93 1428.55L285.32 1428.47L285.71 1428.39L286.11 1428.22L286.5 1428.12L286.89 1427.97L287.29 1427.84L287.68 1427.74L288.08 1427.64L288.47 1427.5L288.86 1427.38L289.26 1427.29L289.65 1427.18L290.04 1427.07L290.44 1426.96L290.83 1426.85L291.22 1426.77L291.62 1426.68L292.01 1426.55L292.4 1426.38L292.8 1426.29L293.19 1426.21L293.59 1426.1L293.98 1426.01L294.37 1425.85L294.77 1425.75L295.16 1425.65L295.55 1425.54L295.95 1425.45L296.34 1425.36L296.73 1425.25L297.13 1425.18L297.52 1425.07L297.91 1424.95L298.31 1424.87L298.7 1424.74L299.1 1424.57L299.49 1424.47L299.88 1424.38L300.28 1424.29L300.67 1424.18L301.06 1424.04L301.46 1423.96L301.85 1423.83L302.24 1423.7L302.64 1423.62L303.03 1423.54L303.42 1423.46L303.82 1423.35L304.21 1423.22L304.61 1423.12L305 1423.02L305.39 1422.93L305.79 1422.83L306.18 1422.74L306.57 1422.63L306.97 1422.45L307.36 1422.3L307.75 1422.22L308.15 1422.13L308.54 1422.05L308.93 1421.92L309.33 1421.79L309.72 1421.63L310.12 1421.52L310.51 1421.42L310.9 1421.33L311.3 1421.17L311.69 1421.08L312.08 1420.99L312.48 1420.87L312.87 1420.79L313.26 1420.62L313.66 1420.52L314.05 1420.43L314.44 1420.35L314.84 1420.22L315.23 1420.12L315.63 1420.02L316.02 1419.94L316.41 1419.86L316.81 1419.77L317.2 1419.66L317.59 1419.58L317.99 1419.51L318.38 1419.42L318.77 1419.33L319.17 1419.25L319.56 1419.12L319.95 1418.97L320.35 1418.83L320.74 1418.72L321.14 1418.64L321.53 1418.57L321.92 1418.48L322.32 1418.36L322.71 1418.28L323.1 1418.18L323.5 1418.06L323.89 1417.95L324.28 1417.79L324.68 1417.69L325.07 1417.59L325.46 1417.46L325.86 1417.37L326.25 1417.24L326.65 1417.16L327.04 1417.08L327.43 1416.97L327.83 1416.89L328.22 1416.79L328.61 1416.61L329.01 1416.53L329.4 1416.44L329.79 1416.27L330.19 1416.18L330.58 1416.07L330.97 1415.99L331.37 1415.92L331.76 1415.82L332.16 1415.69L332.55 1415.58L332.94 1415.5L333.34 1415.32L333.73 1415.24L334.12 1415.1L334.52 1415.02L334.91 1414.89L335.3 1414.81L335.7 1414.72L336.09 1414.6L336.48 1414.51L336.88 1414.43L337.27 1414.34L337.67 1414.25L338.06 1414.12L338.45 1414.02L338.85 1413.91L339.24 1413.83L339.63 1413.71L340.03 1413.59L340.42 1413.46L340.81 1413.35L341.21 1413.24L341.6 1413.15L341.99 1413.07L342.39 1412.97L342.78 1412.86L343.18 1412.68L343.57 1412.58L343.96 1412.45L344.36 1412.34L344.75 1412.2L345.14 1412.05L345.54 1411.97L345.93 1411.89L346.32 1411.79L346.72 1411.71L347.11 1411.57L347.5 1411.41L347.9 1411.29L348.29 1411.15L348.69 1410.98L349.08 1410.88L349.47 1410.79L349.87 1410.7L350.26 1410.62L350.65 1410.54L351.05 1410.46L351.44 1410.39L351.83 1410.33L352.23 1410.26L352.62 1410.17L353.01 1410.11L353.41 1410.04L353.8 1409.95L354.2 1409.86L354.59 1409.79L354.98 1409.72L355.38 1409.65L355.77 1409.58L356.16 1409.5L356.56 1409.42L356.95 1409.33L357.34 1409.24L357.74 1409.17L358.13 1409.07L358.52 1408.9L358.92 1408.84L359.31 1408.72L359.71 1408.6L360.1 1408.53L360.49 1408.42L360.89 1408.33L361.28 1408.25L361.67 1408.15L362.07 1408.08L362.46 1408.01L362.85 1407.95L363.25 1407.85L363.64 1407.7L364.03 1407.63L364.43 1407.55L364.82 1407.44L365.22 1407.37L365.61 1407.3L366 1407.23L366.4 1407.16L366.79 1407.1L367.18 1407.03L367.58 1406.86L367.97 1406.75L368.36 1406.67L368.76 1406.59L369.15 1406.52L369.54 1406.39L369.94 1406.32L370.33 1406.25L370.73 1406.17L371.12 1406.1L371.51 1406L371.91 1405.92L372.3 1405.85L372.69 1405.75L373.09 1405.66L373.48 1405.54L373.87 1405.46L374.27 1405.36L374.66 1405.28L375.05 1405.16L375.45 1405.06L375.84 1404.96L376.24 1404.87L376.63 1404.8L377.02 1404.72L377.42 1404.63L377.81 1404.52L378.2 1404.45L378.6 1404.38L378.99 1404.25L379.38 1404.1L379.78 1403.97L380.17 1403.88L380.57 1403.81L380.96 1403.71L381.35 1403.64L381.75 1403.57L382.14 1403.5L382.53 1403.4L382.93 1403.29L383.32 1403.18L383.71 1403.09L384.11 1403.01L384.5 1402.94L384.89 1402.81L385.29 1402.73L385.68 1402.63L386.08 1402.54L386.47 1402.36L386.86 1402.29L387.26 1402.2L387.65 1402.05L388.04 1401.86L388.44 1401.79L388.83 1401.68L389.22 1401.59L389.62 1401.52L390.01 1401.42L390.4 1401.35L390.8 1401.28L391.19 1401.2L391.59 1401.11L391.98 1400.99L392.37 1400.92L392.77 1400.85L393.16 1400.74L393.55 1400.62L393.95 1400.56L394.34 1400.46L394.73 1400.41L395.13 1400.34L395.52 1400.27L395.91 1400.17L396.31 1400.12L396.7 1400.03L397.1 1399.97L397.49 1399.89L397.88 1399.82L398.28 1399.74L398.67 1399.66L399.06 1399.6L399.46 1399.53L399.85 1399.43L400.24 1399.34L400.64 1399.28L401.03 1399.19L401.42 1399.05L401.82 1399L402.21 1398.94L402.61 1398.85L403 1398.75L403.39 1398.69L403.79 1398.61L404.18 1398.54L404.57 1398.43L404.97 1398.36L405.36 1398.29L405.75 1398.22L406.15 1398.12L406.54 1398.05L406.93 1397.98L407.33 1397.92L407.72 1397.84L408.12 1397.78L408.51 1397.66L408.9 1397.59L409.3 1397.52L409.69 1397.47L410.08 1397.39L410.48 1397.32L410.87 1397.2L411.26 1397.13L411.66 1397.08L412.05 1397.02L412.44 1396.95L412.84 1396.9L413.23 1396.8L413.63 1396.73L414.02 1396.68L414.41 1396.6L414.81 1396.54L415.2 1396.46L415.59 1396.4L415.99 1396.29L416.38 1396.21L416.77 1396.14L417.17 1396.06L417.56 1396L417.95 1395.9L418.35 1395.8L418.74 1395.72L419.14 1395.64L419.53 1395.52L419.92 1395.45L420.32 1395.38L420.71 1395.31L421.1 1395.24L421.5 1395.18L421.89 1395.06L422.28 1394.99L422.68 1394.89L423.07 1394.83L423.46 1394.76L423.86 1394.7L424.25 1394.63L424.65 1394.56L425.04 1394.46L425.43 1394.41L425.83 1394.34L426.22 1394.27L426.61 1394.07L427.01 1394.01L427.4 1393.94L427.79 1393.88L428.19 1393.81L428.58 1393.74L428.97 1393.67L429.37 1393.59L429.76 1393.53L430.16 1393.46L430.55 1393.39L430.94 1393.33L431.34 1393.28L431.73 1393.19L432.12 1393.14L432.52 1393.05L432.91 1392.96L433.3 1392.9L433.7 1392.82L434.09 1392.76L434.48 1392.69L434.88 1392.55L435.27 1392.49L435.67 1392.43L436.06 1392.37L436.45 1392.28L436.85 1392.22L437.24 1392.17L437.63 1392.08L438.03 1392.01L438.42 1391.94L438.81 1391.88L439.21 1391.79L439.6 1391.71L439.99 1391.64L440.39 1391.53L440.78 1391.43L441.18 1391.38L441.57 1391.31L441.96 1391.21L442.36 1391.13L442.75 1391.06L443.14 1390.99L443.54 1390.93L443.93 1390.84L444.32 1390.76L444.72 1390.67L445.11 1390.6L445.5 1390.54L445.9 1390.47L446.29 1390.41L446.69 1390.29L447.08 1390.14L447.47 1389.98L447.87 1389.91L448.26 1389.83L448.65 1389.74L449.05 1389.64L449.44 1389.55L449.83 1389.46L450.23 1389.38L450.62 1389.31L451.01 1389.24L451.41 1389.16L451.8 1389.08L452.2 1389.01L452.59 1388.94L452.98 1388.77L453.38 1388.68L453.77 1388.58L454.16 1388.48L454.56 1388.4L454.95 1388.32L455.34 1388.25L455.74 1388.17L456.13 1388.06L456.52 1387.98L456.92 1387.88L457.31 1387.8L457.71 1387.61L458.1 1387.5L458.49 1387.4L458.89 1387.32L459.28 1387.24L459.67 1387.16L460.07 1387.05L460.46 1386.88L460.85 1386.75L461.25 1386.68L461.64 1386.61L462.03 1386.54L462.43 1386.46L462.82 1386.38L463.22 1386.3L463.61 1386.22L464 1386.12L464.4 1386.02L464.79 1385.92L465.18 1385.75L465.58 1385.63L465.97 1385.56L466.36 1385.47L466.76 1385.37L467.15 1385.3L467.54 1385.14L467.94 1385.03L468.33 1384.96L468.73 1384.86L469.12 1384.77L469.51 1384.69L469.91 1384.53L470.3 1384.46L470.69 1384.37L471.09 1384.3L471.48 1384.21L471.87 1384.14L472.27 1384.05L472.66 1383.97L473.05 1383.88L473.45 1383.78L473.84 1383.71L474.24 1383.62L474.63 1383.47L475.02 1383.39L475.42 1383.31L475.81 1383.24L476.2 1383.15L476.6 1383.09L476.99 1382.97L477.38 1382.9L477.78 1382.81L478.17 1382.72L478.56 1382.66L478.96 1382.57L479.35 1382.5L479.75 1382.41L480.14 1382.3L480.53 1382.23L480.93 1382.14L481.32 1381.96L481.71 1381.85L482.11 1381.74L482.5 1381.66L482.89 1381.58L483.29 1381.48L483.68 1381.33L484.07 1381.24L484.47 1381.14L484.86 1381.06L485.26 1380.98L485.65 1380.9L486.04 1380.8L486.44 1380.72L486.83 1380.65L487.22 1380.52L487.62 1380.42L488.01 1380.35L488.4 1380.27L488.8 1380.19L489.19 1380.12L489.58 1379.94L489.98 1379.84L490.37 1379.76L490.77 1379.68L491.16 1379.59L491.55 1379.51L491.95 1379.4L492.34 1379.33L492.73 1379.26L493.13 1379.13L493.52 1379.07L493.91 1378.96L494.31 1378.88L494.7 1378.81L495.09 1378.73L495.49 1378.62L495.88 1378.52L496.28 1378.42L496.67 1378.35L497.06 1378.24L497.46 1378.17L497.85 1378.05L498.24 1377.93L498.64 1377.83L499.03 1377.7L499.42 1377.63L499.82 1377.51L500.21 1377.44L500.6 1377.36L501 1377.27L501.39 1377.16L501.79 1377.08L502.18 1377.01L502.57 1376.94L502.97 1376.85L503.36 1376.76L503.75 1376.66L504.15 1376.47L504.54 1376.35L504.93 1376.27L505.33 1376.18L505.72 1376.1L506.11 1376.02L506.51 1375.95L506.9 1375.87L507.3 1375.8L507.69 1375.73L508.08 1375.64L508.48 1375.51L508.87 1375.42L509.26 1375.35L509.66 1375.29L510.05 1375.2L510.44 1375.11L510.84 1375.02L511.23 1374.91L511.63 1374.84L512.02 1374.74L512.41 1374.67L512.81 1374.59L513.2 1374.52L513.59 1374.36L513.99 1374.27L514.38 1374.2L514.77 1374.13L515.17 1373.99L515.56 1373.92L515.95 1373.78L516.35 1373.69L516.74 1373.61L517.14 1373.5L517.53 1373.42L517.92 1373.24L518.32 1373.15L518.71 1373.08L519.1 1372.95L519.5 1372.88L519.89 1372.75L520.28 1372.64L520.68 1372.48L521.07 1372.35L521.46 1372.27L521.86 1372.18L522.25 1372.1L522.65 1372.02L523.04 1371.94L523.43 1371.87L523.83 1371.78L524.22 1371.64L524.61 1371.53L525.01 1371.46L525.4 1371.33L525.79 1371.18L526.19 1371.08L526.58 1371L526.97 1370.91L527.37 1370.83L527.76 1370.73L528.16 1370.64L528.55 1370.54L528.94 1370.46L529.34 1370.34L529.73 1370.26L530.12 1370.17L530.52 1370.09L530.91 1370.02L531.3 1369.95L531.7 1369.85L532.09 1369.76L532.48 1369.68L532.88 1369.6L533.27 1369.52L533.67 1369.46L534.06 1369.36L534.45 1369.25L534.85 1369.18L535.24 1369.11L535.63 1369.02L536.03 1368.95L536.42 1368.88L536.81 1368.8L537.21 1368.73L537.6 1368.66L537.99 1368.58L538.39 1368.51L538.78 1368.42L539.18 1368.36L539.57 1368.29L539.96 1368.17L540.36 1368.09L540.75 1368.02L541.14 1367.91L541.54 1367.84L541.93 1367.78L542.32 1367.7L542.72 1367.64L543.11 1367.54L543.5 1367.45L543.9 1367.36L544.29 1367.3L544.69 1367.15L545.08 1367.08L545.47 1366.99L545.87 1366.91L546.26 1366.78L546.65 1366.68L547.05 1366.6L547.44 1366.54L547.83 1366.48L548.23 1366.42L548.62 1366.32L549.01 1366.19L549.41 1366.13L549.8 1366.06L550.2 1365.99L550.59 1365.81L550.98 1365.74L551.38 1365.66L551.77 1365.59L552.16 1365.48L552.56 1365.37L552.95 1365.3L553.34 1365.24L553.74 1365.08L554.13 1365L554.52 1364.9L554.92 1364.81L555.31 1364.75L555.71 1364.68L556.1 1364.61L556.49 1364.53L556.89 1364.45L557.28 1364.34L557.67 1364.25L558.07 1364.18L558.46 1364.12L558.85 1364.04L559.25 1363.97L559.64 1363.87L560.03 1363.77L560.43 1363.7L560.82 1363.58L561.22 1363.49L561.61 1363.41L562 1363.33L562.4 1363.22L562.79 1363.09L563.18 1363.03L563.58 1362.96L563.97 1362.87L564.36 1362.8L564.76 1362.73L565.15 1362.62L565.54 1362.54L565.94 1362.48L566.33 1362.4L566.73 1362.25L567.12 1362.18L567.51 1362.06L567.91 1361.98L568.3 1361.89L568.69 1361.83L569.09 1361.73L569.48 1361.65L569.87 1361.59L570.27 1361.49L570.66 1361.41L571.05 1361.31L571.45 1361.21L571.84 1361.12L572.24 1360.97L572.63 1360.89L573.02 1360.83L573.42 1360.72L573.81 1360.58L574.2 1360.5L574.6 1360.39L574.99 1360.31L575.38 1360.24L575.78 1360.14L576.17 1360.04L576.56 1359.98L576.96 1359.9L577.35 1359.82L577.75 1359.73L578.14 1359.66L578.53 1359.6L578.93 1359.49L579.32 1359.36L579.71 1359.18L580.11 1359.05L580.5 1358.98L580.89 1358.92L581.29 1358.83L581.68 1358.77L582.07 1358.65L582.47 1358.57L582.86 1358.49L583.26 1358.41L583.65 1358.35L584.04 1358.29L584.44 1358.23L584.83 1358.17L585.22 1358.1L585.62 1358.04L586.01 1357.96L586.4 1357.89L586.8 1357.82L587.19 1357.72L587.58 1357.66L587.98 1357.58L588.37 1357.45L588.77 1357.38L589.16 1357.28L589.55 1357.15L589.95 1357.07L590.34 1356.96L590.73 1356.82L591.13 1356.75L591.52 1356.68L591.91 1356.61L592.31 1356.54L592.7 1356.47L593.09 1356.4L593.49 1356.31L593.88 1356.24L594.28 1356.17L594.67 1356.1L595.06 1356.01L595.46 1355.88L595.85 1355.81L596.24 1355.73L596.64 1355.67L597.03 1355.61L597.42 1355.49L597.82 1355.42L598.21 1355.29L598.6 1355.22L599 1355.09L599.39 1355.02L599.79 1354.94L600.18 1354.87L600.57 1354.79L600.97 1354.7L601.36 1354.62L601.75 1354.55L602.15 1354.43L602.54 1354.37L602.93 1354.3L603.33 1354.18L603.72 1354.11L604.11 1354.03L604.51 1353.95L604.9 1353.88L605.3 1353.81L605.69 1353.7L606.08 1353.62L606.48 1353.56L606.87 1353.48L607.26 1353.4L607.66 1353.32L608.05 1353.24L608.44 1353.15L608.84 1353.07L609.23 1353L609.62 1352.92L610.02 1352.81L610.41 1352.71L610.81 1352.62L611.2 1352.55L611.59 1352.49L611.99 1352.42L612.38 1352.35L612.77 1352.29L613.17 1352.16L613.56 1352L613.95 1351.93L614.35 1351.81L614.74 1351.74L615.13 1351.67L615.53 1351.6L615.92 1351.49L616.32 1351.39L616.71 1351.31L617.1 1351.24L617.5 1351.17L617.89 1351.07L618.28 1350.99L618.68 1350.87L619.07 1350.73L619.46 1350.65L619.86 1350.55L620.25 1350.45L620.64 1350.38L621.04 1350.31L621.43 1350.21L621.83 1350.13L622.22 1350.06L622.61 1349.94L623.01 1349.88L623.4 1349.82L623.79 1349.76L624.19 1349.66L624.58 1349.58L624.97 1349.51L625.37 1349.44L625.76 1349.35L626.15 1349.24L626.55 1349.18L626.94 1349.08L627.34 1348.98L627.73 1348.91L628.12 1348.84L628.52 1348.77L628.91 1348.68L629.3 1348.61L629.7 1348.52L630.09 1348.44L630.48 1348.37L630.88 1348.25L631.27 1348.14L631.66 1348.06L632.06 1347.98L632.45 1347.85L632.85 1347.75L633.24 1347.66L633.63 1347.56L634.03 1347.46L634.42 1347.38L634.81 1347.27L635.21 1347.17L635.6 1347.08L635.99 1346.91L636.39 1346.84L636.78 1346.73L637.17 1346.65L637.57 1346.56L637.96 1346.46L638.36 1346.33L638.75 1346.22L639.14 1346.07L639.54 1345.99L639.93 1345.9L640.32 1345.75L640.72 1345.69L641.11 1345.53L641.5 1345.45L641.9 1345.35L642.29 1345.27L642.69 1345.16L643.08 1345.08L643.47 1344.99L643.87 1344.91L644.26 1344.84L644.65 1344.75L645.05 1344.67L645.44 1344.59L645.83 1344.51L646.23 1344.42L646.62 1344.34L647.01 1344.27L647.41 1344.14L647.8 1344.07L648.2 1343.95L648.59 1343.86L648.98 1343.79L649.38 1343.67L649.77 1343.57L650.16 1343.36L650.56 1343.24L650.95 1343.12L651.34 1343.06L651.74 1342.98L652.13 1342.9L652.52 1342.76L652.92 1342.68L653.31 1342.6L653.71 1342.53L654.1 1342.45L654.49 1342.34L654.89 1342.25L655.28 1342.17L655.67 1342.1L656.07 1342.02L656.46 1341.9L656.85 1341.82L657.25 1341.71L657.64 1341.65L658.03 1341.57L658.43 1341.5L658.82 1341.4L659.22 1341.3L659.61 1341.23L660 1341.15L660.4 1341.07L660.79 1341L661.18 1340.93L661.58 1340.86L661.97 1340.73L662.36 1340.66L662.76 1340.59L663.15 1340.52L663.54 1340.43L663.94 1340.28L664.33 1340.2L664.73 1340.13L665.12 1340.06L665.51 1339.98L665.91 1339.89L666.3 1339.81L666.69 1339.75L667.09 1339.66L667.48 1339.56L667.87 1339.45L668.27 1339.36L668.66 1339.22L669.05 1339.07L669.45 1338.98L669.84 1338.84L670.24 1338.77L670.63 1338.67L671.02 1338.55L671.42 1338.48L671.81 1338.42L672.2 1338.25L672.6 1338.13L672.99 1338.06L673.38 1337.96L673.78 1337.89L674.17 1337.8L674.56 1337.72L674.96 1337.64L675.35 1337.57L675.75 1337.49L676.14 1337.43L676.53 1337.36L676.93 1337.28L677.32 1337.2L677.71 1337.07L678.11 1336.95L678.5 1336.87L678.89 1336.8L679.29 1336.73L679.68 1336.6L680.07 1336.47L680.47 1336.41L680.86 1336.29L681.26 1336.19L681.65 1336.1L682.04 1336.03L682.44 1335.92L682.83 1335.83L683.22 1335.72L683.62 1335.62L684.01 1335.53L684.4 1335.45L684.8 1335.38L685.19 1335.31L685.58 1335.24L685.98 1335.15L686.37 1335.06L686.77 1334.96L687.16 1334.88L687.55 1334.81L687.95 1334.74L688.34 1334.63L688.73 1334.56L689.13 1334.49L689.52 1334.38L689.91 1334.3L690.31 1334.11L690.7 1334.04L691.09 1333.95L691.49 1333.85L691.88 1333.79L692.28 1333.68L692.67 1333.6L693.06 1333.54L693.46 1333.45L693.85 1333.38L694.24 1333.32L694.64 1333.25L695.03 1333.15L695.42 1333.06L695.82 1332.97L696.21 1332.83L696.6 1332.75L697 1332.67L697.39 1332.59L697.79 1332.47L698.18 1332.4L698.57 1332.33L698.97 1332.23L699.36 1332.1L699.75 1331.96L700.15 1331.87L700.54 1331.79L700.93 1331.72L701.33 1331.63L701.72 1331.5L702.11 1331.42L702.51 1331.31L702.9 1331.24L703.3 1331.17L703.69 1331.09L704.08 1330.99L704.48 1330.92L704.87 1330.84L705.26 1330.77L705.66 1330.7L706.05 1330.55L706.44 1330.43L706.84 1330.28L707.23 1330.18L707.62 1330.08L708.02 1329.94L708.41 1329.83L708.81 1329.75L709.2 1329.68L709.59 1329.58L709.99 1329.5L710.38 1329.42L710.77 1329.32L711.17 1329.24L711.56 1329.14L711.95 1329.04L712.35 1328.87L712.74 1328.8L713.13 1328.72L713.53 1328.63L713.92 1328.52L714.32 1328.42L714.71 1328.1L715.1 1328L715.5 1327.89L715.89 1327.79L716.28 1327.69L716.68 1327.53L717.07 1327.4L717.46 1327.22L717.86 1327.12L718.25 1326.97L718.64 1326.87L719.04 1326.68L719.43 1326.59L719.83 1326.46L720.22 1326.36L720.61 1326.26L721.01 1326.03L721.4 1325.87L721.79 1325.74L722.19 1325.59L722.58 1325.49L722.97 1325.37L723.37 1325.28L723.76 1325.12L724.15 1325.03L724.55 1324.89L724.94 1324.76L725.34 1324.65L725.73 1324.47L726.12 1324.36L726.52 1324.21L726.91 1324.08L727.3 1323.96L727.7 1323.82L728.09 1323.69L728.48 1323.59L728.88 1323.48L729.27 1323.36L729.66 1323.26L730.06 1323.16L730.45 1323.02L730.85 1322.85L731.24 1322.76L731.63 1322.65L732.03 1322.54L732.42 1322.4L732.81 1322.13L733.21 1322.01L733.6 1321.88L733.99 1321.76L734.39 1321.66L734.78 1321.55L735.17 1321.46L735.57 1321.35L735.96 1321.25L736.36 1321.06L736.75 1320.96L737.14 1320.76L737.54 1320.56L737.93 1320.45L738.32 1320.32L738.72 1320.2L739.11 1320.03L739.5 1319.92L739.9 1319.72L740.29 1319.56L740.68 1319.45L741.08 1319.34L741.47 1319.23L741.87 1319.07L742.26 1318.96L742.65 1318.82L743.05 1318.71L743.44 1318.54L743.83 1318.44L744.23 1318.32L744.62 1318.22L745.01 1317.96L745.41 1317.85L745.8 1317.76L746.19 1317.68L746.59 1317.53L746.98 1317.44L747.38 1317.27L747.77 1317.19L748.16 1317.07L748.56 1316.99L748.95 1316.86L749.34 1316.74L749.74 1316.63L750.13 1316.55L750.52 1316.47L750.92 1316.3L751.31 1316.16L751.7 1316.06L752.1 1315.95L752.49 1315.85L752.89 1315.73L753.28 1315.65L753.67 1315.53L754.07 1315.43L754.46 1315.35L754.85 1315.21L755.25 1315.13L755.64 1315.03L756.03 1314.93L756.43 1314.83L756.82 1314.72L757.21 1314.63L757.61 1314.55L758 1314.43L758.4 1314.33L758.79 1314.25L759.18 1314.17L759.58 1314.07L759.97 1313.99L760.36 1313.89L760.76 1313.8L761.15 1313.64L761.54 1313.5L761.94 1313.37L762.33 1313.26L762.72 1312.99L763.12 1312.9L763.51 1312.8L763.91 1312.69L764.3 1312.58L764.69 1312.5L765.09 1312.41L765.48 1312.23L765.87 1312.08L766.27 1311.97L766.66 1311.88L767.05 1311.76L767.45 1311.64L767.84 1311.57L768.23 1311.46L768.63 1311.38L769.02 1311.26L769.42 1311.11L769.81 1311.02L770.2 1310.87L770.6 1310.77L770.99 1310.61L771.38 1310.48L771.78 1310.36L772.17 1310.25L772.56 1310.17L772.96 1310.09L773.35 1310L773.75 1309.9L774.14 1309.82L774.53 1309.73L774.93 1309.53L775.32 1309.44L775.71 1309.35L776.11 1309.13L776.5 1309.05L776.89 1308.97L777.29 1308.85L777.68 1308.77L778.07 1308.68L778.47 1308.55L778.86 1308.35L779.26 1308.24L779.65 1308.16L780.04 1307.97L780.44 1307.81L780.83 1307.71L781.22 1307.61L781.62 1307.46L782.01 1307.38L782.4 1307.27L782.8 1307.15L783.19 1307.02L783.58 1306.93L783.98 1306.8L784.37 1306.71L784.77 1306.57L785.16 1306.4L785.55 1306.28L785.95 1306.19L786.34 1306.07L786.73 1305.89L787.13 1305.71L787.52 1305.63L787.91 1305.55L788.31 1305.38L788.7 1305.27L789.09 1305.15L789.49 1305.03L789.88 1304.86L790.28 1304.76L790.67 1304.67L791.06 1304.54L791.46 1304.41L791.85 1304.23L792.24 1304.07L792.64 1303.94L793.03 1303.86L793.42 1303.77L793.82 1303.63L794.21 1303.54L794.6 1303.44L795 1303.35L795.39 1303.26L795.79 1303.18L796.18 1303.08L796.57 1302.98L796.97 1302.88L797.36 1302.75L797.75 1302.64L798.15 1302.55L798.54 1302.46L798.93 1302.32L799.33 1302.22L799.72 1302.03L800.11 1301.92L800.51 1301.84L800.9 1301.76L801.3 1301.67L801.69 1301.59L802.08 1301.5L802.48 1301.41L802.87 1301.29L803.26 1301.19L803.66 1301.09L804.05 1300.98L804.44 1300.88L804.84 1300.8L805.23 1300.72L805.62 1300.59L806.02 1300.48L806.41 1300.39L806.81 1300.3L807.2 1300.21L807.59 1300.12L807.99 1300.03L808.38 1299.93L808.77 1299.85L809.17 1299.67L809.56 1299.58L809.95 1299.48L810.35 1299.38L810.74 1299.3L811.13 1299.2L811.53 1299.09L811.92 1298.97L812.32 1298.81L812.71 1298.63L813.1 1298.54L813.5 1298.37L813.89 1298.24L814.28 1298.15L814.68 1298.04L815.07 1297.95L815.46 1297.83L815.86 1297.73L816.25 1297.62L816.64 1297.55L817.04 1297.46L817.43 1297.28L817.83 1297.17L818.22 1297.07L818.61 1296.96L819.01 1296.76L819.4 1296.67L819.79 1296.56L820.19 1296.36L820.58 1296.2L820.97 1296.11L821.37 1295.98L821.76 1295.88L822.15 1295.71L822.55 1295.61L822.94 1295.51L823.34 1295.29L823.73 1295.05L824.12 1294.95L824.52 1294.85L824.91 1294.74L825.3 1294.62L825.7 1294.53L826.09 1294.41L826.48 1294.29L826.88 1294.15L827.27 1294.04L827.66 1293.93L828.06 1293.83L828.45 1293.74L828.85 1293.64L829.24 1293.53L829.63 1293.43L830.03 1293.34L830.42 1293.21L830.81 1293.04L831.21 1292.92L831.6 1292.65L831.99 1292.55L832.39 1292.45L832.78 1292.32L833.17 1292.18L833.57 1292.05L833.96 1291.93L834.36 1291.84L834.75 1291.74L835.14 1291.6L835.54 1291.51L835.93 1291.4L836.32 1291.24L836.72 1291.14L837.11 1290.99L837.5 1290.86L837.9 1290.75L838.29 1290.64L838.68 1290.36L839.08 1290.18L839.47 1290.05L839.87 1289.82L840.26 1289.72L840.65 1289.56L841.05 1289.38L841.44 1289.28L841.83 1289.16L842.23 1289.05L842.62 1288.87L843.01 1288.78L843.41 1288.5L843.8 1288.34L844.19 1288.24L844.59 1288.11L844.98 1288.02L845.38 1287.87L845.77 1287.73L846.16 1287.63L846.56 1287.53L846.95 1287.41L847.34 1287.28L847.74 1287.14L848.13 1287.04L848.52 1286.92L848.92 1286.77L849.31 1286.59L849.7 1286.42L850.1 1286.28L850.49 1286.12L850.89 1285.98L851.28 1285.84L851.67 1285.68L852.07 1285.45L852.46 1285.28L852.85 1285.12L853.25 1284.89L853.64 1284.68L854.03 1284.56L854.43 1284.36L854.82 1284.24L855.21 1283.97L855.61 1283.81L856 1283.67L856.4 1283.5L856.79 1283.35L857.18 1283.18L857.58 1282.97L857.97 1282.72L858.36 1282.54L858.76 1282.35L859.15 1282.12L859.54 1281.99L859.94 1281.84L860.33 1281.72L860.72 1281.5L861.12 1281.38L861.51 1281.25L861.91 1280.96L862.3 1280.79L862.69 1280.58L863.09 1280.35L863.48 1280.2L863.87 1280.05L864.27 1279.93L864.66 1279.8L865.05 1279.56L865.45 1279.39L865.84 1279.09L866.23 1278.81L866.63 1278.68L867.02 1278.51L867.42 1278.35L867.81 1278.16L868.2 1278.03L868.6 1277.9L868.99 1277.76L869.38 1277.63L869.78 1277.48L870.17 1277.31L870.56 1277.15L870.96 1277.02L871.35 1276.87L871.74 1276.64L872.14 1276.36L872.53 1276.22L872.93 1276.08L873.32 1275.93L873.71 1275.65L874.11 1275.47L874.5 1275.17L874.89 1275.04L875.29 1274.84L875.68 1274.7L876.07 1274.5L876.47 1274.37L876.86 1274.23L877.25 1273.98L877.65 1273.81L878.04 1273.63L878.44 1273.48L878.83 1273.23L879.22 1273.09L879.62 1272.96L880.01 1272.8L880.4 1272.63L880.8 1272.38L881.19 1272.25L881.58 1272.08L881.98 1271.92L882.37 1271.73L882.76 1271.56L883.16 1271.42L883.55 1271.26L883.95 1271.12L884.34 1270.96L884.73 1270.79L885.13 1270.43L885.52 1270.28L885.91 1270.12L886.31 1269.97L886.7 1269.83L887.09 1269.64L887.49 1269.39L887.88 1269.26L888.27 1269.01L888.67 1268.82L889.06 1268.66L889.46 1268.53L889.85 1268.31L890.24 1268.16L890.64 1268.03L891.03 1267.62L891.42 1267.49L891.82 1267.22L892.21 1267.09L892.6 1266.95L893 1266.78L893.39 1266.65L893.78 1266.52L894.18 1266.39L894.57 1266.04L894.97 1265.91L895.36 1265.76L895.75 1265.48L896.15 1265.24L896.54 1265.07L896.93 1264.89L897.33 1264.7L897.72 1264.48L898.11 1264.32L898.51 1264.11L898.9 1263.87L899.3 1263.71L899.69 1263.57L900.08 1263.37L900.48 1263.24L900.87 1263L901.26 1262.85L901.66 1262.71L902.05 1262.49L902.44 1262.32L902.84 1262.05L903.23 1261.9L903.62 1261.73L904.02 1261.48L904.41 1261.35L904.81 1261.14L905.2 1260.81L905.59 1260.63L905.99 1260.49L906.38 1260.35L906.77 1260.17L907.17 1260L907.56 1259.84L907.95 1259.7L908.35 1259.5L908.74 1259.33L909.13 1259.19L909.53 1259.02L909.92 1258.87L910.32 1258.71L910.71 1258.53L911.1 1258.37L911.5 1258.24L911.89 1258.03L912.28 1257.82L912.68 1257.47L913.07 1257.27L913.46 1257.03L913.86 1256.84L914.25 1256.56L914.64 1256.36L915.04 1256.22L915.43 1256.07L915.83 1255.93L916.22 1255.75L916.61 1255.51L917.01 1255.13L917.4 1254.95L917.79 1254.81L918.19 1254.67L918.58 1254.41L918.97 1254.13L919.37 1253.96L919.76 1253.81L920.15 1253.56L920.55 1253.41L920.94 1253.18L921.34 1252.97L921.73 1252.76L922.12 1252.62L922.52 1252.46L922.91 1252.23L923.3 1252.1L923.7 1251.9L924.09 1251.67L924.48 1251.37L924.88 1251.2L925.27 1250.98L925.66 1250.78L926.06 1250.64L926.45 1250.42L926.85 1250.27L927.24 1250.11L927.63 1249.97L928.03 1249.83L928.42 1249.65L928.81 1249.5L929.21 1249.3L929.6 1249.09L929.99 1248.94L930.39 1248.76L930.78 1248.59L931.17 1248.45L931.57 1248.3L931.96 1248.13L932.36 1247.89L932.75 1247.75L933.14 1247.56L933.54 1247.42L933.93 1247.28L934.32 1247.11L934.72 1246.96L935.11 1246.75L935.5 1246.53L935.9 1246.39L936.29 1245.97L936.68 1245.6L937.08 1245.29L937.47 1244.95L937.87 1244.58L938.26 1244.3L938.65 1243.96L939.05 1243.75L939.44 1243.54L939.83 1243.18L940.23 1242.9L940.62 1242.5L941.01 1242.25L941.41 1242.03L941.8 1241.75L942.19 1241.48L942.59 1241.16L942.98 1240.73L943.38 1240.41L943.77 1240.19L944.16 1239.66L944.56 1239.38L944.95 1239.13L945.34 1238.91L945.74 1238.56L946.13 1238.27L946.52 1237.9L946.92 1237.57L947.31 1237.33L947.7 1237.06L948.1 1236.84L948.49 1236.61L948.89 1236.36L949.28 1236.06L949.67 1235.81L950.07 1235.5L950.46 1235.27L950.85 1234.96L951.25 1234.47L951.64 1234.04L952.03 1233.46L952.43 1232.95L952.82 1232.55L953.21 1232.09L953.61 1231.56L954 1231.04L954.4 1230.32L954.79 1229.88L955.18 1229.43L955.58 1229.02L955.97 1228.64L956.36 1228.29L956.76 1227.89L957.15 1227.49L957.54 1227L957.94 1226.3L958.33 1225.6L958.72 1225.09L959.12 1224.65L959.51 1224.14L959.91 1223.85L960.3 1223.62L960.69 1223.19L961.09 1222.89L961.48 1222.62L961.87 1222.19L962.27 1221.67L962.66 1221.4L963.05 1221.13L963.45 1220.66L963.84 1220.41L964.23 1220.16L964.63 1219.65L965.02 1219.38L965.42 1219.04L965.81 1218.72L966.2 1218.34L966.6 1218.05L966.99 1217.79L967.38 1217.5L967.78 1217.16L968.17 1216.74L968.56 1216.47L968.96 1216.17L969.35 1215.91L969.74 1215.59L970.14 1215.22L970.53 1214.86L970.93 1214.6L971.32 1213.67L971.71 1212.82L972.11 1212.11L972.5 1211.32L972.89 1210.63L973.29 1209.75L973.68 1208.83L974.07 1207.81L974.47 1207L974.86 1205.41L975.25 1204.68L975.65 1203.04L976.04 1200.94L976.44 1199.35L976.83 1196.43L977.22 1194.53L977.62 1192.27L978.01 1189.69L978.4 1187.06L978.8 1184.38L979.19 1181.67L979.58 1179L979.98 1176.32L980.37 1171.63L980.76 1169.43L981.16 1166.9L981.55 1164.61L981.95 1101.66" fill="none" stroke="#ff7f0e" stroke-width="4.3" stroke-linecap="square" stroke-linejoin="round"/>
<path d="M126.1 1173.05H1022.7" stroke="#f20d0d" stroke-width="4.3" stroke-dasharray="15.61 6.76" fill="none"/>
</g>
<rect x="126.1" y="873" width="896.6" height="620.8" fill="none" stroke="#000" stroke-width="2.6"/>
<path d="M1198.8 1493.8v-25.4M1198.8 873v25.4M1361.85 1493.8v-25.4M1361.85 873v25.4M1524.91 1493.8v-25.4M1524.91 873v25.4M1687.96 1493.8v-25.4M1687.96 873v25.4M1851.02 1493.8v-25.4M1851.02 873v25.4M2014.07 1493.8v-25.4M2014.07 873v25.4M1239.56 1493.8v-12.7M1239.56 873v12.7M1280.33 1493.8v-12.7M1280.33 873v12.7M1321.09 1493.8v-12.7M1321.09 873v12.7M1402.62 1493.8v-12.7M1402.62 873v12.7M1443.38 1493.8v-12.7M1443.38 873v12.7M1484.15 1493.8v-12.7M1484.15 873v12.7M1565.67 1493.8v-12.7M1565.67 873v12.7M1606.44 1493.8v-12.7M1606.44 873v12.7M1647.2 1493.8v-12.7M1647.2 873v12.7M1728.73 1493.8v-12.7M1728.73 873v12.7M1769.49 1493.8v-12.7M1769.49 873v12.7M1810.25 1493.8v-12.7M1810.25 873v12.7M1891.78 1493.8v-12.7M1891.78 873v12.7M1932.55 1493.8v-12.7M1932.55 873v12.7M1973.31 1493.8v-12.7M1973.31 873v12.7M2054.84 1493.8v-12.7M2054.84 873v12.7M2095.6 1493.8v-12.7M2095.6 873v12.7M1198.8 1493.8h25.4M2095.6 1493.8h-25.4M1198.8 1390.33h25.4M2095.6 1390.33h-25.4M1198.8 1286.87h25.4M2095.6 1286.87h-25.4M1198.8 1183.4h25.4M2095.6 1183.4h-25.4M1198.8 1079.93h25.4M2095.6 1079.93h-25.4M1198.8 976.47h25.4M2095.6 976.47h-25.4M1198.8 873h25.4M2095.6 873h-25.4M1198.8 1467.93h12.7M2095.6 1467.93h-12.7M1198.8 1442.07h12.7M2095.6 1442.07h-12.7M1198.8 1416.2h12.7M2095.6 1416.2h-12.7M1198.8 1364.47h12.7M2095.6 1364.47h-12.7M1198.8 1338.6h12.7M2095.6 1338.6h-12.7M1198.8 1312.73h12.7M2095.6 1312.73h-12.7M1198.8 1261h12.7M2095.6 1261h-12.7M1198.8 1235.13h12.7M2095.6 1235.13h-12.7M1198.8 1209.27h12.7M2095.6 1209.27h-12.7M1198.8 1157.53h12.7M2095.6 1157.53h-12.7M1198.8 1131.67h12.7M2095.6 1131.67h-12.7M1198.8 1105.8h12.7M2095.6 1105.8h-12.7M1198.8 1054.07h12.7M2095.6 1054.07h-12.7M1198.8 1028.2h12.7M2095.6 1028.2h-12.7M1198.8 1002.33h12.7M2095.6 1002.33h-12.7M1198.8 950.6h12.7M2095.6 950.6h-12.7M1198.8 924.73h12.7M2095.6 924.73h-12.7M1198.8 898.87h12.7M2095.6 898.87h-12.7" stroke="#000" stroke-width="2.35" fill="none"/>
<g clip-path="url(#cd)">
<path d="M1161.74 1249.56L1198.8 1248.58L1235.86 1247.03L1272.92 1244.45L1309.97 1242.38L1347.03 1239.79L1384.09 1238.75L1421.15 1236.69L1458.2 1236.17L1495.26 1233.58L1532.32 1226.86L1569.38 1224.27L1606.44 1214.96L1643.49 1209.27L1680.55 1188.57L1717.61 1182.37L1754.67 1182.88L1791.73 1152.36L1828.78 1149.26L1865.84 1144.6L1902.9 1133.74L1939.96 1090.28L1977.01 1002.33L2014.07 909.21" fill="none" stroke="#1f77b4" stroke-width="4.3" stroke-linecap="butt" stroke-linejoin="round" stroke-dasharray="15.61 6.76"/>
<g fill="#1f77b4"><circle cx="1161.74" cy="1249.56" r="8.6"/><circle cx="1198.8" cy="1248.58" r="8.6"/><circle cx="1235.86" cy="1247.03" r="8.6"/><circle cx="1272.92" cy="1244.45" r="8.6"/><circle cx="1309.97" cy="1242.38" r="8.6"/><circle cx="1347.03" cy="1239.79" r="8.6"/><circle cx="1384.09" cy="1238.75" r="8.6"/><circle cx="1421.15" cy="1236.69" r="8.6"/><circle cx="1458.2" cy="1236.17" r="8.6"/><circle cx="1495.26" cy="1233.58" r="8.6"/><circle cx="1532.32" cy="1226.86" r="8.6"/><circle cx="1569.38" cy="1224.27" r="8.6"/><circle cx="1606.44" cy="1214.96" r="8.6"/><circle cx="1643.49" cy="1209.27" r="8.6"/><circle cx="1680.55" cy="1188.57" r="8.6"/><circle cx="1717.61" cy="1182.37" r="8.6"/><circle cx="1754.67" cy="1182.88" r="8.6"/><circle cx="1791.73" cy="1152.36" r="8.6"/><circle cx="1828.78" cy="1149.26" r="8.6"/><circle cx="1865.84" cy="1144.6" r="8.6"/><circle cx="1902.9" cy="1133.74" r="8.6"/><circle cx="1939.96" cy="1090.28" r="8.6"/><circle cx="1977.01" cy="1002.33" r="8.6"/><circle cx="2014.07" cy="909.21" r="8.6"/></g>
<path d="M1140.14 1266.04L1144.08 1265.91L1148.02 1265.76L1151.95 1265.48L1155.89 1265.24L1159.83 1265.07L1163.76 1264.89L1167.7 1264.7L1171.64 1264.48L1175.57 1264.32L1179.51 1264.11L1183.45 1263.87L1187.38 1263.71L1191.32 1263.57L1195.26 1263.37L1199.19 1263.24L1203.13 1263L1207.07 1262.85L1211 1262.71L1214.94 1262.49L1218.88 1262.32L1222.81 1262.05L1226.75 1261.9L1230.69 1261.73L1234.62 1261.48L1238.56 1261.35L1242.5 1261.14L1246.43 1260.81L1250.37 1260.63L1254.31 1260.49L1258.24 1260.35L1262.18 1260.17L1266.12 1260L1270.05 1259.84L1273.99 1259.7L1277.93 1259.5L1281.86 1259.33L1285.8 1259.19L1289.74 1259.02L1293.67 1258.87L1297.61 1258.71L1301.55 1258.53L1305.48 1258.37L1309.42 1258.24L1313.36 1258.03L1317.29 1257.82L1321.23 1257.47L1325.17 1257.27L1329.1 1257.03L1333.04 1256.84L1336.98 1256.56L1340.91 1256.36L1344.85 1256.22L1348.78 1256.07L1352.72 1255.93L1356.66 1255.75L1360.59 1255.51L1364.53 1255.13L1368.47 1254.95L1372.4 1254.81L1376.34 1254.67L1380.28 1254.41L1384.21 1254.13L1388.15 1253.96L1392.09 1253.81L1396.02 1253.56L1399.96 1253.41L1403.9 1253.18L1407.83 1252.97L1411.77 1252.76L1415.71 1252.62L1419.64 1252.46L1423.58 1252.23L1427.52 1252.1L1431.45 1251.9L1435.39 1251.67L1439.33 1251.37L1443.26 1251.2L1447.2 1250.98L1451.14 1250.78L1455.07 1250.64L1459.01 1250.42L1462.95 1250.27L1466.88 1250.11L1470.82 1249.97L1474.76 1249.83L1478.69 1249.65L1482.63 1249.5L1486.57 1249.3L1490.5 1249.09L1494.44 1248.94L1498.38 1248.76L1502.31 1248.59L1506.25 1248.45L1510.19 1248.3L1514.12 1248.13L1518.06 1247.89L1522 1247.75L1525.93 1247.56L1529.87 1247.42L1533.81 1247.28L1537.74 1247.11L1541.68 1246.96L1545.62 1246.75L1549.55 1246.53L1553.49 1246.39L1557.43 1245.97L1561.36 1245.6L1565.3 1245.29L1569.24 1244.95L1573.17 1244.58L1577.11 1244.3L1581.05 1243.96L1584.98 1243.75L1588.92 1243.54L1592.86 1243.18L1596.79 1242.9L1600.73 1242.5L1604.66 1242.25L1608.6 1242.03L1612.54 1241.75L1616.47 1241.48L1620.41 1241.16L1624.35 1240.73L1628.28 1240.41L1632.22 1240.19L1636.16 1239.66L1640.09 1239.38L1644.03 1239.13L1647.97 1238.91L1651.9 1238.56L1655.84 1238.27L1659.78 1237.9L1663.71 1237.57L1667.65 1237.33L1671.59 1237.06L1675.52 1236.84L1679.46 1236.61L1683.4 1236.36L1687.33 1236.06L1691.27 1235.81L1695.21 1235.5L1699.14 1235.27L1703.08 1234.96L1707.02 1234.47L1710.95 1234.04L1714.89 1233.46L1718.83 1232.95L1722.76 1232.55L1726.7 1232.09L1730.64 1231.56L1734.57 1231.04L1738.51 1230.32L1742.45 1229.88L1746.38 1229.43L1750.32 1229.02L1754.26 1228.64L1758.19 1228.29L1762.13 1227.89L1766.07 1227.49L1770 1227L1773.94 1226.3L1777.88 1225.6L1781.81 1225.09L1785.75 1224.65L1789.69 1224.14L1793.62 1223.85L1797.56 1223.62L1801.5 1223.19L1805.43 1222.89L1809.37 1222.62L1813.31 1222.19L1817.24 1221.67L1821.18 1221.4L1825.12 1221.13L1829.05 1220.66L1832.99 1220.41L1836.93 1220.16L1840.86 1219.65L1844.8 1219.38L1848.73 1219.04L1852.67 1218.72L1856.61 1218.34L1860.54 1218.05L1864.48 1217.79L1868.42 1217.5L1872.35 1217.16L1876.29 1216.74L1880.23 1216.47L1884.16 1216.17L1888.1 1215.91L1892.04 1215.59L1895.97 1215.22L1899.91 1214.86L1903.85 1214.6L1907.78 1213.67L1911.72 1212.82L1915.66 1212.11L1919.59 1211.32L1923.53 1210.63L1927.47 1209.75L1931.4 1208.83L1935.34 1207.81L1939.28 1207L1943.21 1205.41L1947.15 1204.68L1951.09 1203.04L1955.02 1200.94L1958.96 1199.35L1962.9 1196.43L1966.83 1194.53L1970.77 1192.27L1974.71 1189.69L1978.64 1187.06L1982.58 1184.38L1986.52 1181.67L1990.45 1179L1994.39 1176.32L1998.33 1171.63L2002.26 1169.43L2006.2 1166.9L2010.14 1164.61L2014.07 1101.66" fill="none" stroke="#ff7f0e" stroke-width="4.3" stroke-linecap="butt" stroke-linejoin="round" stroke-dasharray="15.61 6.76"/>
<path d="M1140.14 1266.04L1144.08 1265.91L1148.02 1265.76L1151.95 1265.48L1155.89 1265.24L1159.83 1265.07L1163.76 1264.89L1167.7 1264.7L1171.64 1264.48L1175.57 1264.32L1179.51 1264.11L1183.45 1263.87L1187.38 1263.71L1191.32 1263.57L1195.26 1263.37L1199.19 1263.24L1203.13 1263L1207.07 1262.85L1211 1262.71L1214.94 1262.49L1218.88 1262.32L1222.81 1262.05L1226.75 1261.9L1230.69 1261.73L1234.62 1261.48L1238.56 1261.35L1242.5 1261.14L1246.43 1260.81L1250.37 1260.63L1254.31 1260.49L1258.24 1260.35L1262.18 1260.17L1266.12 1260L1270.05 1259.84L1273.99 1259.7L1277.93 1259.5L1281.86 1259.33L1285.8 1259.19L1289.74 1259.02L1293.67 1258.87L1297.61 1258.71L1301.55 1258.53L1305.48 1258.37L1309.42 1258.24L1313.36 1258.03L1317.29 1257.82L1321.23 1257.47L1325.17 1257.27L1329.1 1257.03L1333.04 1256.84L1336.98 1256.56L1340.91 1256.36L1344.85 1256.22L1348.78 1256.07L1352.72 1255.93L1356.66 1255.75L1360.59 1255.51L1364.53 1255.13L1368.47 1254.95L1372.4 1254.81L1376.34 1254.67L1380.28 1254.41L1384.21 1254.13L1388.15 1253.96L1392.09 1253.81L1396.02 1253.56L1399.96 1253.41L1403.9 1253.18L1407.83 1252.97L1411.77 1252.76L1415.71 1252.62L1419.64 1252.46L1423.58 1252.23L1427.52 1252.1L1431.45 1251.9L1435.39 1251.67L1439.33 1251.37L1443.26 1251.2L1447.2 1250.98L1451.14 1250.78L1455.07 1250.64L1459.01 1250.42L1462.95 1250.27L1466.88 1250.11L1470.82 1249.97L1474.76 1249.83L1478.69 1249.65L1482.63 1249.5L1486.57 1249.3L1490.5 1249.09L1494.44 1248.94L1498.38 1248.76L1502.31 1248.59L1506.25 1248.45L1510.19 1248.3L1514.12 1248.13L1518.06 1247.89L1522 1247.75L1525.93 1247.56L1529.87 1247.42L1533.81 1247.28L1537.74 1247.11L1541.68 1246.96L1545.62 1246.75L1549.55 1246.53L1553.49 1246.39L1557.43 1245.97L1561.36 1245.6L1565.3 1245.29L1569.24 1244.95L1573.17 1244.58L1577.11 1244.3L1581.05 1243.96L1584.98 1243.75L1588.92 1243.54L1592.86 1243.18L1596.79 1242.9L1600.73 1242.5L1604.66 1242.25L1608.6 1242.03L1612.54 1241.75L1616.47 1241.48L1620.41 1241.16L1624.35 1240.73L1628.28 1240.41L1632.22 1240.19L1636.16 1239.66L1640.09 1239.38L1644.03 1239.13L1647.97 1238.91L1651.9 1238.56L1655.84 1238.27L1659.78 1237.9L1663.71 1237.57L1667.65 1237.33L1671.59 1237.06L1675.52 1236.84L1679.46 1236.61L1683.4 1236.36L1687.33 1236.06L1691.27 1235.81L1695.21 1235.5L1699.14 1235.27L1703.08 1234.96L1707.02 1234.47L1710.95 1234.04L1714.89 1233.46L1718.83 1232.95L1722.76 1232.55L1726.7 1232.09L1730.64 1231.56L1734.57 1231.04L1738.51 1230.32L1742.45 1229.88L1746.38 1229.43L1750.32 1229.02L1754.26 1228.64L1758.19 1228.29L1762.13 1227.89L1766.07 1227.49L1770 1227L1773.94 1226.3L1777.88 1225.6L1781.81 1225.09L1785.75 1224.65L1789.69 1224.14L1793.62 1223.85L1797.56 1223.62L1801.5 1223.19L1805.43 1222.89L1809.37 1222.62L1813.31 1222.19L1817.24 1221.67L1821.18 1221.4L1825.12 1221.13L1829.05 1220.66L1832.99 1220.41L1836.93 1220.16L1840.86 1219.65L1844.8 1219.38L1848.73 1219.04L1852.67 1218.72L1856.61 1218.34L1860.54 1218.05L1864.48 1217.79L1868.42 1217.5L1872.35 1217.16L1876.29 1216.74L1880.23 1216.47L1884.16 1216.17L1888.1 1215.91L1892.04 1215.59L1895.97 1215.22L1899.91 1214.86L1903.85 1214.6L1907.78 1213.67L1911.72 1212.82L1915.66 1212.11L1919.59 1211.32L1923.53 1210.63L1927.47 1209.75L1931.4 1208.83L1935.34 1207.81L1939.28 1207L1943.21 1205.41L1947.15 1204.68L1951.09 1203.04L1955.02 1200.94L1958.96 1199.35L1962.9 1196.43L1966.83 1194.53L1970.77 1192.27L1974.71 1189.69L1978.64 1187.06L1982.58 1184.38L1986.52 1181.67L1990.45 1179L1994.39 1176.32L1998.33 1171.63L2002.26 1169.43L2006.2 1166.9L2010.14 1164.61" fill="none" stroke="#ff7f0e" stroke-width="17.2" stroke-linecap="round" stroke-linejoin="round"/>
<g fill="#ff7f0e"><circle cx="1994.39" cy="1176.32" r="8.6"/><circle cx="1998.33" cy="1171.63" r="8.6"/><circle cx="2002.26" cy="1169.43" r="8.6"/><circle cx="2006.2" cy="1166.9" r="8.6"/><circle cx="2010.14" cy="1164.61" r="8.6"/><circle cx="2014.07" cy="1101.66" r="8.6"/></g>
<path d="M1132.55 1308.3L1148.07 1307.56L1163.37 1306.82L1178.46 1306.08L1193.35 1305.34L1208.02 1304.6L1222.49 1303.86L1236.75 1303.13L1250.82 1302.39L1264.67 1301.65L1278.33 1300.91L1291.8 1300.17L1305.06 1299.43L1318.13 1298.69L1331.01 1297.95L1343.7 1297.21L1356.2 1296.47L1368.51 1295.74L1380.63 1295L1392.57 1294.26L1404.33 1293.52L1415.91 1292.78L1427.31 1292.04L1438.53 1291.3L1449.58 1290.56L1460.46 1289.82L1471.16 1289.08L1481.7 1288.34L1492.07 1287.61L1502.27 1286.87L1512.31 1286.13L1522.18 1285.39L1531.9 1284.65L1541.46 1283.91L1550.86 1283.17L1560.1 1282.43L1569.19 1281.69L1578.13 1280.95L1586.93 1280.22L1595.57 1279.48L1604.07 1278.74L1612.42 1278L1620.63 1277.26L1628.7 1276.52L1636.63 1275.78L1644.43 1275.04L1652.09 1274.3L1659.61 1273.56L1667.01 1272.82L1674.27 1272.09L1681.4 1271.35L1688.41 1270.61L1695.3 1269.87L1702.05 1269.13L1708.69 1268.39L1715.21 1267.65L1721.61 1266.91L1727.89 1266.17L1734.06 1265.43L1740.11 1264.7L1746.05 1263.96L1751.88 1263.22L1757.61 1262.48L1763.22 1261.74L1768.73 1261L1774.14 1260.26L1779.44 1259.52L1784.64 1258.78L1789.75 1258.04L1794.75 1257.3L1799.66 1256.57L1804.47 1255.83L1809.19 1255.09L1813.82 1254.35L1818.35 1253.61L1822.8 1252.87L1827.16 1252.13L1831.43 1251.39L1835.62 1250.65L1839.73 1249.91L1843.75 1249.18L1847.69 1248.44L1851.55 1247.7L1855.33 1246.96L1859.04 1246.22L1862.67 1245.48L1866.22 1244.74L1869.71 1244L1873.12 1243.26L1876.46 1242.52L1879.73 1241.78L1882.93 1241.05L1886.06 1240.31L1889.13 1239.57L1892.13 1238.83L1895.07 1238.09L1897.95 1237.35L1900.76 1236.61L1903.52 1235.87L1906.21 1235.13L1908.85 1234.39L1911.43 1233.66L1913.95 1232.92L1916.42 1232.18L1918.83 1231.44L1921.2 1230.7L1923.5 1229.96L1925.76 1229.22L1927.97 1228.48L1930.13 1227.74L1932.24 1227L1934.3 1226.26L1936.32 1225.53L1938.29 1224.79L1940.21 1224.05L1942.09 1223.31L1943.93 1222.57L1945.73 1221.83L1947.49 1221.09L1949.2 1220.35L1950.88 1219.61L1952.51 1218.87L1954.11 1218.14L1955.67 1217.4L1957.2 1216.66L1958.68 1215.92L1960.14 1215.18L1961.56 1214.44L1962.94 1213.7L1964.29 1212.96L1965.61 1212.22L1966.9 1211.48L1968.16 1210.74L1969.39 1210.01L1970.58 1209.27L1971.75 1208.53L1972.89 1207.79L1974 1207.05L1975.09 1206.31L1976.14 1205.57L1977.18 1204.83L1978.18 1204.09L1979.16 1203.35L1980.12 1202.62L1981.05 1201.88L1981.96 1201.14L1982.85 1200.4L1983.71 1199.66L1984.55 1198.92L1985.38 1198.18L1986.18 1197.44L1986.96 1196.7L1987.72 1195.96L1988.46 1195.22L1989.18 1194.49L1989.88 1193.75L1990.56 1193.01L1991.23 1192.27L1991.88 1191.53L1992.51 1190.79L1993.13 1190.05L1993.73 1189.31L1994.31 1188.57L1994.88 1187.83L1995.44 1187.1L1995.97 1186.36L1996.5 1185.62L1997.01 1184.88L1997.51 1184.14L1997.99 1183.4L1998.46 1182.66L1998.92 1181.92L1999.36 1181.18L1999.8 1180.44L2000.22 1179.7L2000.63 1178.97L2001.03 1178.23L2001.42 1177.49L2001.79 1176.75L2002.16 1176.01L2002.52 1175.27L2002.86 1174.53L2003.2 1173.79L2003.53 1173.05L2003.85 1172.31L2004.16 1171.58L2004.46 1170.84L2004.75 1170.1L2005.03 1169.36L2005.31 1168.62L2005.58 1167.88L2005.84 1167.14L2006.09 1166.4L2006.34 1165.66L2006.58 1164.92L2006.81 1164.18L2007.04 1163.45L2007.25 1162.71L2007.47 1161.97L2007.67 1161.23L2007.87 1160.49L2008.07 1159.75L2008.26 1159.01L2008.44 1158.27L2008.62 1157.53L2008.79 1156.79L2008.96 1156.06L2009.12 1155.32L2009.28 1154.58L2009.43 1153.84L2009.58 1153.1L2009.72 1152.36L2009.86 1151.62L2010 1150.88L2010.13 1150.14L2010.26 1149.4L2010.38 1148.66L2010.5 1147.93L2010.62 1147.19L2010.73 1146.45L2010.84 1145.71L2010.95 1144.97L2011.05 1144.23L2011.15 1143.49L2011.24 1142.75L2011.34 1142.01L2011.43 1141.27L2011.52 1140.54L2011.6 1139.8L2011.68 1139.06L2011.76 1138.32L2011.84 1137.58L2011.91 1136.84L2011.99 1136.1L2012.06 1135.36L2012.13 1134.62L2012.19 1133.88L2012.25 1133.14L2012.32 1132.41L2012.38 1131.67L2012.43 1130.93L2012.49 1130.19L2012.54 1129.45L2012.6 1128.71L2012.65 1127.97L2012.7 1127.23L2012.74 1126.49L2012.79 1125.75L2012.83 1125.02L2012.88 1124.28L2012.92 1123.54L2012.96 1122.8L2013 1122.06L2013.03 1121.32L2013.07 1120.58L2013.11 1119.84L2013.14 1119.1L2013.17 1118.36L2013.2 1117.62L2013.24 1116.89L2013.27 1116.15L2013.29 1115.41L2013.32 1114.67L2013.35 1113.93L2013.37 1113.19L2013.4 1112.45L2013.42 1111.71L2013.45 1110.97L2013.47 1110.23L2013.49 1109.5L2013.51 1108.76L2013.53 1108.02L2013.55 1107.28L2013.57 1106.54L2013.59 1105.8L2013.61 1105.06L2013.62 1104.32L2013.64 1103.58L2013.66 1102.84L2013.67 1102.1L2013.69 1101.37L2013.7 1100.63L2013.71 1099.89L2013.73 1099.15L2013.74 1098.41L2013.75 1097.67L2013.76 1096.93L2013.78 1096.19L2013.79 1095.45L2013.8 1094.71L2013.81 1093.98L2013.82 1093.24L2013.83 1092.5L2013.84 1091.76L2013.85 1091.02L2013.85 1090.28L2013.86 1089.54L2013.87 1088.8L2013.88 1088.06L2013.89 1087.32L2013.89 1086.58L2013.9 1085.85L2013.91 1085.11L2013.91 1084.37L2013.92 1083.63L2013.92 1082.89L2013.93 1082.15L2013.94 1081.41L2013.94 1080.67L2013.95 1079.93L2013.95 1079.19L2013.96 1078.46L2013.96 1077.72L2013.96 1076.98L2013.97 1076.24L2013.97 1075.5L2013.98 1074.76L2013.98 1074.02L2013.98 1073.28L2013.99 1072.54L2013.99 1071.8L2013.99 1071.06L2014 1070.33L2014 1069.59L2014 1068.85L2014.01 1068.11L2014.01 1067.37L2014.01 1066.63L2014.01 1065.89L2014.02 1065.15L2014.02 1064.41L2014.02 1063.67L2014.02 1062.94L2014.02 1062.2L2014.03 1061.46L2014.03 1060.72L2014.03 1059.98L2014.03 1059.24L2014.03 1058.5L2014.04 1057.76L2014.04 1057.02L2014.04 1056.28L2014.04 1055.54L2014.04 1054.81L2014.04 1054.07L2014.04 1053.33L2014.04 1052.59L2014.05 1051.85L2014.05 1051.11L2014.05 1050.37L2014.05 1049.63L2014.05 1048.89L2014.05 1048.15L2014.05 1047.42L2014.05 1046.68L2014.05 1045.94L2014.05 1045.2L2014.06 1044.46L2014.06 1043.72L2014.06 1042.98L2014.06 1042.24L2014.06 1041.5L2014.06 1040.76L2014.06 1040.02L2014.06 1039.29L2014.06 1038.55L2014.06 1037.81L2014.06 1037.07L2014.06 1036.33L2014.06 1035.59L2014.06 1034.85L2014.06 1034.11L2014.06 1033.37L2014.06 1032.63L2014.06 1031.9L2014.06 1031.16L2014.07 1030.42L2014.07 1029.68L2014.07 1028.94L2014.07 1028.2L2014.07 1027.46L2014.07 1026.72L2014.07 1025.98L2014.07 1025.24L2014.07 1024.5L2014.07 1023.77L2014.07 1023.03L2014.07 1022.29L2014.07 1021.55L2014.07 1020.81L2014.07 1020.07L2014.07 1019.33L2014.07 1018.59L2014.07 1017.85L2014.07 1017.11L2014.07 1016.38L2014.07 1015.64L2014.07 1014.9L2014.07 1014.16L2014.07 1013.42L2014.07 1012.68L2014.07 1011.94L2014.07 1011.2L2014.07 1010.46L2014.07 1009.72L2014.07 1008.98L2014.07 1008.25L2014.07 1007.51L2014.07 1006.77L2014.07 1006.03L2014.07 1005.29L2014.07 1004.55L2014.07 1003.81L2014.07 1003.07L2014.07 1002.33L2014.07 1001.59L2014.07 1000.86L2014.07 1000.12L2014.07 999.38L2014.07 998.64L2014.07 997.9L2014.07 997.16L2014.07 996.42L2014.07 995.68L2014.07 994.94L2014.07 994.2L2014.07 993.46L2014.07 992.73L2014.07 991.99L2014.07 991.25L2014.07 990.51L2014.07 989.77L2014.07 989.03L2014.07 988.29L2014.07 987.55L2014.07 986.81L2014.07 986.07L2014.07 985.34L2014.07 984.6L2014.07 983.86L2014.07 983.12L2014.07 982.38L2014.07 981.64L2014.07 980.9L2014.07 980.16L2014.07 979.42L2014.07 978.68L2014.07 977.94L2014.07 977.21L2014.07 976.47" fill="none" stroke="#000" stroke-width="4.3" stroke-linecap="butt" stroke-linejoin="round" stroke-dasharray="15.61 6.76"/>
<path d="M1123.99 1243.37L1139.59 1242.38L1154.98 1241.38L1170.16 1240.38L1185.12 1239.38L1199.88 1238.39L1214.43 1237.39L1228.78 1236.39L1242.92 1235.39L1256.87 1234.39L1270.61 1233.4L1284.15 1232.4L1297.5 1231.4L1310.65 1230.4L1323.61 1229.41L1336.38 1228.41L1348.96 1227.41L1361.36 1226.41L1373.56 1225.41L1385.59 1224.42L1397.43 1223.42L1409.09 1222.42L1420.57 1221.42L1431.87 1220.43L1443 1219.43L1453.95 1218.43L1464.74 1217.43L1475.35 1216.44L1485.8 1215.44L1496.08 1214.44L1506.19 1213.44L1516.15 1212.44L1525.94 1211.45L1535.57 1210.45L1545.05 1209.45L1554.37 1208.45L1563.54 1207.46L1572.55 1206.46L1581.42 1205.46L1590.14 1204.46L1598.71 1203.47L1607.13 1202.47L1615.42 1201.47L1623.56 1200.47L1631.56 1199.47L1639.43 1198.48L1647.16 1197.48L1654.75 1196.48L1662.22 1195.48L1669.55 1194.49L1676.75 1193.49L1683.83 1192.49L1690.78 1191.49L1697.6 1190.49L1704.3 1189.5L1710.89 1188.5L1717.35 1187.5L1723.7 1186.5L1729.93 1185.51L1736.04 1184.51L1742.05 1183.51L1747.94 1182.51L1753.73 1181.52L1759.4 1180.52L1764.97 1179.52L1770.44 1178.52L1775.8 1177.52L1781.06 1176.53L1786.22 1175.53L1791.28 1174.53L1796.24 1173.53L1801.11 1172.54L1805.89 1171.54L1810.57 1170.54L1815.16 1169.54L1819.66 1168.55L1824.07 1167.55L1828.4 1166.55L1832.64 1165.55L1836.79 1164.55L1840.86 1163.56L1844.85 1162.56L1848.76 1161.56L1852.59 1160.56L1856.35 1159.57L1860.03 1158.57L1863.63 1157.57L1867.16 1156.57L1870.61 1155.57L1873.99 1154.58L1877.31 1153.58L1880.55 1152.58L1883.73 1151.58L1886.84 1150.59L1889.88 1149.59L1892.87 1148.59L1895.78 1147.59L1898.64 1146.6L1901.43 1145.6L1904.17 1144.6L1906.84 1143.6L1909.46 1142.6L1912.02 1141.61L1914.53 1140.61L1916.98 1139.61L1919.37 1138.61L1921.72 1137.62L1924.01 1136.62L1926.25 1135.62L1928.44 1134.62L1930.59 1133.63L1932.68 1132.63L1934.73 1131.63L1936.73 1130.63L1938.69 1129.63L1940.6 1128.64L1942.47 1127.64L1944.3 1126.64L1946.08 1125.64L1947.82 1124.65L1949.53 1123.65L1951.19 1122.65L1952.82 1121.65L1954.41 1120.65L1955.96 1119.66L1957.47 1118.66L1958.95 1117.66L1960.39 1116.66L1961.8 1115.67L1963.18 1114.67L1964.52 1113.67L1965.83 1112.67L1967.11 1111.68L1968.36 1110.68L1969.58 1109.68L1970.77 1108.68L1971.93 1107.68L1973.07 1106.69L1974.17 1105.69L1975.25 1104.69L1976.3 1103.69L1977.33 1102.7L1978.33 1101.7L1979.3 1100.7L1980.25 1099.7L1981.18 1098.71L1982.08 1097.71L1982.97 1096.71L1983.83 1095.71L1984.66 1094.71L1985.48 1093.72L1986.28 1092.72L1987.05 1091.72L1987.81 1090.72L1988.54 1089.73L1989.26 1088.73L1989.96 1087.73L1990.64 1086.73L1991.3 1085.73L1991.95 1084.74L1992.58 1083.74L1993.19 1082.74L1993.79 1081.74L1994.37 1080.75L1994.94 1079.75L1995.49 1078.75L1996.02 1077.75L1996.55 1076.76L1997.05 1075.76L1997.55 1074.76L1998.03 1073.76L1998.5 1072.76L1998.95 1071.77L1999.4 1070.77L1999.83 1069.77L2000.25 1068.77L2000.66 1067.78L2001.06 1066.78L2001.44 1065.78L2001.82 1064.78L2002.18 1063.79L2002.54 1062.79L2002.88 1061.79L2003.22 1060.79L2003.55 1059.79L2003.86 1058.8L2004.17 1057.8L2004.47 1056.8L2004.76 1055.8L2005.05 1054.81L2005.32 1053.81L2005.59 1052.81L2005.85 1051.81L2006.1 1050.81L2006.35 1049.82L2006.59 1048.82L2006.82 1047.82L2007.04 1046.82L2007.26 1045.83L2007.47 1044.83L2007.68 1043.83L2007.88 1042.83L2008.07 1041.84L2008.26 1040.84L2008.44 1039.84L2008.62 1038.84L2008.79 1037.84L2008.96 1036.85L2009.12 1035.85L2009.28 1034.85L2009.43 1033.85L2009.58 1032.86L2009.72 1031.86L2009.86 1030.86L2010 1029.86L2010.13 1028.87L2010.26 1027.87L2010.38 1026.87L2010.5 1025.87L2010.62 1024.87L2010.73 1023.88L2010.84 1022.88L2010.94 1021.88L2011.05 1020.88L2011.14 1019.89L2011.24 1018.89L2011.33 1017.89L2011.42 1016.89L2011.51 1015.89L2011.6 1014.9L2011.68 1013.9L2011.76 1012.9L2011.84 1011.9L2011.91 1010.91L2011.98 1009.91L2012.05 1008.91L2012.12 1007.91L2012.19 1006.92L2012.25 1005.92L2012.31 1004.92L2012.37 1003.92L2012.43 1002.92L2012.49 1001.93L2012.54 1000.93L2012.59 999.93L2012.64 998.93L2012.69 997.94L2012.74 996.94L2012.79 995.94L2012.83 994.94L2012.87 993.95L2012.91 992.95L2012.95 991.95L2012.99 990.95L2013.03 989.95L2013.07 988.96L2013.1 987.96L2013.14 986.96L2013.17 985.96L2013.2 984.97L2013.23 983.97L2013.26 982.97L2013.29 981.97L2013.32 980.97L2013.35 979.98L2013.37 978.98L2013.4 977.98L2013.42 976.98L2013.44 975.99L2013.47 974.99L2013.49 973.99L2013.51 972.99L2013.53 972L2013.55 971L2013.57 970L2013.59 969L2013.6 968L2013.62 967.01L2013.64 966.01L2013.65 965.01L2013.67 964.01L2013.68 963.02L2013.7 962.02L2013.71 961.02L2013.72 960.02L2013.74 959.03L2013.75 958.03L2013.76 957.03L2013.77 956.03L2013.78 955.03L2013.8 954.04L2013.81 953.04L2013.82 952.04L2013.83 951.04L2013.83 950.05L2013.84 949.05L2013.85 948.05L2013.86 947.05L2013.87 946.05L2013.88 945.06L2013.88 944.06L2013.89 943.06L2013.9 942.06L2013.9 941.07L2013.91 940.07L2013.92 939.07L2013.92 938.07L2013.93 937.08L2013.93 936.08L2013.94 935.08L2013.95 934.08L2013.95 933.08L2013.95 932.09L2013.96 931.09L2013.96 930.09L2013.97 929.09L2013.97 928.1L2013.98 927.1L2013.98 926.1L2013.98 925.1L2013.99 924.11L2013.99 923.11L2013.99 922.11L2014 921.11L2014 920.11L2014 919.12L2014.01 918.12L2014.01 917.12L2014.01 916.12L2014.01 915.13L2014.02 914.13L2014.02 913.13L2014.02 912.13L2014.02 911.13L2014.02 910.14L2014.03 909.14L2014.03 908.14L2014.03 907.14L2014.03 906.15L2014.03 905.15L2014.03 904.15L2014.04 903.15L2014.04 902.16L2014.04 901.16L2014.04 900.16L2014.04 899.16L2014.04 898.16L2014.04 897.17L2014.05 896.17L2014.05 895.17L2014.05 894.17L2014.05 893.18L2014.05 892.18L2014.05 891.18L2014.05 890.18L2014.05 889.19L2014.05 888.19L2014.05 887.19L2014.05 886.19L2014.06 885.19L2014.06 884.2L2014.06 883.2L2014.06 882.2L2014.06 881.2L2014.06 880.21L2014.06 879.21L2014.06 878.21L2014.06 877.21L2014.06 876.21L2014.06 875.22L2014.06 874.22L2014.06 873.22L2014.06 872.22L2014.06 871.23L2014.06 870.23L2014.06 869.23L2014.06 868.23L2014.06 867.24L2014.07 866.24L2014.07 865.24L2014.07 864.24L2014.07 863.24L2014.07 862.25L2014.07 861.25L2014.07 860.25L2014.07 859.25L2014.07 858.26L2014.07 857.26L2014.07 856.26L2014.07 855.26L2014.07 854.27L2014.07 853.27L2014.07 852.27L2014.07 851.27L2014.07 850.27L2014.07 849.28L2014.07 848.28L2014.07 847.28L2014.07 846.28L2014.07 845.29L2014.07 844.29L2014.07 843.29L2014.07 842.29L2014.07 841.29L2014.07 840.3L2014.07 839.3L2014.07 838.3L2014.07 837.3L2014.07 836.31L2014.07 835.31L2014.07 834.31L2014.07 833.31L2014.07 832.32L2014.07 831.32L2014.07 830.32L2014.07 829.32L2014.07 828.32L2014.07 827.33L2014.07 826.33L2014.07 825.33L2014.07 824.33L2014.07 823.34L2014.07 822.34L2014.07 821.34L2014.07 820.34L2014.07 819.35L2014.07 818.35L2014.07 817.35L2014.07 816.35L2014.07 815.35L2014.07 814.36L2014.07 813.36L2014.07 812.36L2014.07 811.36L2014.07 810.37L2014.07 809.37L2014.07 808.37L2014.07 807.37L2014.07 806.37L2014.07 805.38L2014.07 804.38L2014.07 803.38L2014.07 802.38L2014.07 801.39L2014.07 800.39L2014.07 799.39L2014.07 798.39L2014.07 797.4L2014.07 796.4L2014.07 795.4" fill="none" stroke="#000" stroke-width="4.3" stroke-linecap="butt" stroke-linejoin="round" stroke-dasharray="15.61 6.76"/>
<path d="M1130.98 1275.65L1146.51 1274.78L1161.83 1273.91L1176.94 1273.04L1191.84 1272.17L1206.53 1271.31L1221.01 1270.44L1235.29 1269.57L1249.37 1268.7L1263.24 1267.83L1276.92 1266.96L1290.39 1266.09L1303.67 1265.22L1316.76 1264.35L1329.65 1263.48L1342.36 1262.61L1354.87 1261.74L1367.2 1260.88L1379.34 1260.01L1391.29 1259.14L1403.07 1258.27L1414.66 1257.4L1426.07 1256.53L1437.31 1255.66L1448.38 1254.79L1459.27 1253.92L1469.99 1253.05L1480.54 1252.18L1490.92 1251.32L1501.13 1250.45L1511.19 1249.58L1521.08 1248.71L1530.81 1247.84L1540.38 1246.97L1549.79 1246.1L1559.05 1245.23L1568.16 1244.36L1577.11 1243.49L1585.92 1242.62L1594.57 1241.76L1603.09 1240.89L1611.45 1240.02L1619.68 1239.15L1627.76 1238.28L1635.71 1237.41L1643.51 1236.54L1651.18 1235.67L1658.72 1234.8L1666.13 1233.93L1673.4 1233.06L1680.55 1232.19L1687.57 1231.33L1694.47 1230.46L1701.24 1229.59L1707.89 1228.72L1714.42 1227.85L1720.83 1226.98L1727.12 1226.11L1733.3 1225.24L1739.37 1224.37L1745.32 1223.5L1751.16 1222.63L1756.9 1221.77L1762.52 1220.9L1768.04 1220.03L1773.46 1219.16L1778.77 1218.29L1783.99 1217.42L1789.1 1216.55L1794.11 1215.68L1799.03 1214.81L1803.86 1213.94L1808.59 1213.07L1813.22 1212.21L1817.77 1211.34L1822.23 1210.47L1826.6 1209.6L1830.88 1208.73L1835.08 1207.86L1839.19 1206.99L1843.22 1206.12L1847.17 1205.25L1851.04 1204.38L1854.83 1203.51L1858.55 1202.64L1862.19 1201.78L1865.75 1200.91L1869.24 1200.04L1872.66 1199.17L1876.01 1198.3L1879.28 1197.43L1882.49 1196.56L1885.63 1195.69L1888.71 1194.82L1891.72 1193.95L1894.67 1193.08L1897.55 1192.22L1900.37 1191.35L1903.14 1190.48L1905.84 1189.61L1908.48 1188.74L1911.07 1187.87L1913.6 1187L1916.07 1186.13L1918.49 1185.26L1920.86 1184.39L1923.18 1183.52L1925.44 1182.66L1927.66 1181.79L1929.82 1180.92L1931.94 1180.05L1934 1179.18L1936.03 1178.31L1938 1177.44L1939.93 1176.57L1941.82 1175.7L1943.67 1174.83L1945.47 1173.96L1947.23 1173.09L1948.95 1172.23L1950.63 1171.36L1952.27 1170.49L1953.87 1169.62L1955.44 1168.75L1956.97 1167.88L1958.46 1167.01L1959.92 1166.14L1961.34 1165.27L1962.73 1164.4L1964.09 1163.53L1965.41 1162.67L1966.71 1161.8L1967.97 1160.93L1969.2 1160.06L1970.4 1159.19L1971.57 1158.32L1972.72 1157.45L1973.83 1156.58L1974.92 1155.71L1975.98 1154.84L1977.02 1153.97L1978.03 1153.1L1979.01 1152.24L1979.97 1151.37L1980.91 1150.5L1981.82 1149.63L1982.71 1148.76L1983.58 1147.89L1984.42 1147.02L1985.25 1146.15L1986.05 1145.28L1986.83 1144.41L1987.59 1143.54L1988.34 1142.68L1989.06 1141.81L1989.77 1140.94L1990.45 1140.07L1991.12 1139.2L1991.78 1138.33L1992.41 1137.46L1993.03 1136.59L1993.63 1135.72L1994.22 1134.85L1994.79 1133.98L1995.34 1133.12L1995.89 1132.25L1996.41 1131.38L1996.93 1130.51L1997.42 1129.64L1997.91 1128.77L1998.38 1127.9L1998.84 1127.03L1999.29 1126.16L1999.72 1125.29L2000.15 1124.42L2000.56 1123.55L2000.96 1122.69L2001.35 1121.82L2001.73 1120.95L2002.1 1120.08L2002.46 1119.21L2002.8 1118.34L2003.14 1117.47L2003.47 1116.6L2003.79 1115.73L2004.1 1114.86L2004.41 1113.99L2004.7 1113.13L2004.99 1112.26L2005.26 1111.39L2005.53 1110.52L2005.79 1109.65L2006.05 1108.78L2006.3 1107.91L2006.54 1107.04L2006.77 1106.17L2007 1105.3L2007.22 1104.43L2007.43 1103.57L2007.64 1102.7L2007.84 1101.83L2008.03 1100.96L2008.22 1100.09L2008.41 1099.22L2008.59 1098.35L2008.76 1097.48L2008.93 1096.61L2009.09 1095.74L2009.25 1094.87L2009.4 1094L2009.55 1093.14L2009.7 1092.27L2009.84 1091.4L2009.97 1090.53L2010.11 1089.66L2010.24 1088.79L2010.36 1087.92L2010.48 1087.05L2010.6 1086.18L2010.71 1085.31L2010.82 1084.44L2010.93 1083.58L2011.03 1082.71L2011.13 1081.84L2011.23 1080.97L2011.32 1080.1L2011.41 1079.23L2011.5 1078.36L2011.58 1077.49L2011.67 1076.62L2011.75 1075.75L2011.83 1074.88L2011.9 1074.02L2011.97 1073.15L2012.04 1072.28L2012.11 1071.41L2012.18 1070.54L2012.24 1069.67L2012.3 1068.8L2012.36 1067.93L2012.42 1067.06L2012.48 1066.19L2012.53 1065.32L2012.59 1064.45L2012.64 1063.59L2012.69 1062.72L2012.73 1061.85L2012.78 1060.98L2012.82 1060.11L2012.87 1059.24L2012.91 1058.37L2012.95 1057.5L2012.99 1056.63L2013.03 1055.76L2013.06 1054.89L2013.1 1054.03L2013.13 1053.16L2013.17 1052.29L2013.2 1051.42L2013.23 1050.55L2013.26 1049.68L2013.29 1048.81L2013.32 1047.94L2013.34 1047.07L2013.37 1046.2L2013.39 1045.33L2013.42 1044.46L2013.44 1043.6L2013.46 1042.73L2013.49 1041.86L2013.51 1040.99L2013.53 1040.12L2013.55 1039.25L2013.57 1038.38L2013.58 1037.51L2013.6 1036.64L2013.62 1035.77L2013.64 1034.9L2013.65 1034.04L2013.67 1033.17L2013.68 1032.3L2013.7 1031.43L2013.71 1030.56L2013.72 1029.69L2013.74 1028.82L2013.75 1027.95L2013.76 1027.08L2013.77 1026.21L2013.78 1025.34L2013.8 1024.48L2013.81 1023.61L2013.82 1022.74L2013.83 1021.87L2013.83 1021L2013.84 1020.13L2013.85 1019.26L2013.86 1018.39L2013.87 1017.52L2013.88 1016.65L2013.88 1015.78L2013.89 1014.91L2013.9 1014.05L2013.9 1013.18L2013.91 1012.31L2013.92 1011.44L2013.92 1010.57L2013.93 1009.7L2013.93 1008.83L2013.94 1007.96L2013.94 1007.09L2013.95 1006.22L2013.95 1005.35L2013.96 1004.49L2013.96 1003.62L2013.97 1002.75L2013.97 1001.88L2013.98 1001.01L2013.98 1000.14L2013.98 999.27L2013.99 998.4L2013.99 997.53L2013.99 996.66L2014 995.79L2014 994.93L2014 994.06L2014.01 993.19L2014.01 992.32L2014.01 991.45L2014.01 990.58L2014.02 989.71L2014.02 988.84L2014.02 987.97L2014.02 987.1L2014.02 986.23L2014.03 985.36L2014.03 984.5L2014.03 983.63L2014.03 982.76L2014.03 981.89L2014.03 981.02L2014.04 980.15L2014.04 979.28L2014.04 978.41L2014.04 977.54L2014.04 976.67L2014.04 975.8L2014.04 974.94L2014.05 974.07L2014.05 973.2L2014.05 972.33L2014.05 971.46L2014.05 970.59L2014.05 969.72L2014.05 968.85L2014.05 967.98L2014.05 967.11L2014.05 966.24L2014.06 965.38L2014.06 964.51L2014.06 963.64L2014.06 962.77L2014.06 961.9L2014.06 961.03L2014.06 960.16L2014.06 959.29L2014.06 958.42L2014.06 957.55L2014.06 956.68L2014.06 955.81L2014.06 954.95L2014.06 954.08L2014.06 953.21L2014.06 952.34L2014.06 951.47L2014.06 950.6L2014.06 949.73L2014.07 948.86L2014.07 947.99L2014.07 947.12L2014.07 946.25L2014.07 945.39L2014.07 944.52L2014.07 943.65L2014.07 942.78L2014.07 941.91L2014.07 941.04L2014.07 940.17L2014.07 939.3L2014.07 938.43L2014.07 937.56L2014.07 936.69L2014.07 935.82L2014.07 934.96L2014.07 934.09L2014.07 933.22L2014.07 932.35L2014.07 931.48L2014.07 930.61L2014.07 929.74L2014.07 928.87L2014.07 928L2014.07 927.13L2014.07 926.26L2014.07 925.4L2014.07 924.53L2014.07 923.66L2014.07 922.79L2014.07 921.92L2014.07 921.05L2014.07 920.18L2014.07 919.31L2014.07 918.44L2014.07 917.57L2014.07 916.7L2014.07 915.84L2014.07 914.97L2014.07 914.1L2014.07 913.23L2014.07 912.36L2014.07 911.49L2014.07 910.62L2014.07 909.75L2014.07 908.88L2014.07 908.01L2014.07 907.14L2014.07 906.27L2014.07 905.41L2014.07 904.54L2014.07 903.67L2014.07 902.8L2014.07 901.93L2014.07 901.06L2014.07 900.19L2014.07 899.32L2014.07 898.45L2014.07 897.58L2014.07 896.71L2014.07 895.85L2014.07 894.98L2014.07 894.11L2014.07 893.24L2014.07 892.37L2014.07 891.5L2014.07 890.63L2014.07 889.76L2014.07 888.89L2014.07 888.02L2014.07 887.15L2014.07 886.29L2014.07 885.42" fill="none" stroke="#000" stroke-width="4.3" stroke-linecap="square" stroke-linejoin="round"/>
<path d="M1198.8 1173.05H2095.6" stroke="#f20d0d" stroke-width="4.3" stroke-dasharray="15.61 6.76" fill="none"/>
</g>
<rect x="1198.8" y="873" width="896.8" height="620.8" fill="none" stroke="#000" stroke-width="2.6"/>
<rect x="1682.4" y="72.9" width="398.5" height="147.4" rx="4.6" ry="4.6" fill="#fff" fill-opacity="0.8" stroke="#ccc" stroke-opacity="0.8" stroke-width="4.1"/>
<path d="M1694.1 120.1h59.2" stroke="#000" stroke-width="4.3" stroke-linecap="square" fill="none"/>
<path d="M1694.1 189.5h59.2" stroke="#f20d0d" stroke-width="4.3" stroke-dasharray="15.61 6.76" fill="none"/>
<text x="36.41" y="28.1" font-family="'Liberation Sans', Arial, Helvetica, sans-serif" font-size="35" font-weight="bold" textLength="17.24" lengthAdjust="spacingAndGlyphs">a</text>
<text x="1108.65" y="28.3" font-family="'Liberation Sans', Arial, Helvetica, sans-serif" font-size="34.8" font-weight="bold">b</text>
<text x="36" y="842.8" font-family="'Liberation Sans', Arial, Helvetica, sans-serif" font-size="35" font-weight="bold" textLength="18.74" lengthAdjust="spacingAndGlyphs">c</text>
<text x="1108.5" y="842.8" font-family="'Liberation Sans', Arial, Helvetica, sans-serif" font-size="34.8" font-weight="bold">d</text>
<text x="447.86" y="32.3" font-family="'Liberation Sans', Arial, Helvetica, sans-serif" font-size="29.6" textLength="249.43" lengthAdjust="spacingAndGlyphs">0" &lt; r &lt; 3", N = 221</text>
<text x="1499.65" y="32.3" font-family="'Liberation Sans', Arial, Helvetica, sans-serif" font-size="29.6">3" &lt; r &lt; 10", N = 2,090</text>
<text x="49.75" y="689.9" font-family="'Liberation Sans', Arial, Helvetica, sans-serif" font-size="29.6">10</text>
<text x="83.3" y="679.9" font-family="'Liberation Sans', Arial, Helvetica, sans-serif" font-size="20.7">−1</text>
<text x="61.55" y="460.6" font-family="'Liberation Sans', Arial, Helvetica, sans-serif" font-size="29.6">10</text>
<text x="96.85" y="449.2" font-family="'Liberation Sans', Arial, Helvetica, sans-serif" font-size="20.7">0</text>
<text x="61.55" y="230.69" font-family="'Liberation Sans', Arial, Helvetica, sans-serif" font-size="29.6">10</text>
<text x="96.6" y="219.29" font-family="'Liberation Sans', Arial, Helvetica, sans-serif" font-size="20.7">1</text>
<text x="1122.45" y="689.9" font-family="'Liberation Sans', Arial, Helvetica, sans-serif" font-size="29.6">10</text>
<text x="1156" y="679.9" font-family="'Liberation Sans', Arial, Helvetica, sans-serif" font-size="20.7">−1</text>
<text x="1134.25" y="522.75" font-family="'Liberation Sans', Arial, Helvetica, sans-serif" font-size="29.6">10</text>
<text x="1169.55" y="511.35" font-family="'Liberation Sans', Arial, Helvetica, sans-serif" font-size="20.7">0</text>
<text x="1134.25" y="355" font-family="'Liberation Sans', Arial, Helvetica, sans-serif" font-size="29.6">10</text>
<text x="1169.3" y="343.6" font-family="'Liberation Sans', Arial, Helvetica, sans-serif" font-size="20.7">1</text>
<text x="1134.25" y="187.25" font-family="'Liberation Sans', Arial, Helvetica, sans-serif" font-size="29.6">10</text>
<text x="1169.5" y="175.85" font-family="'Liberation Sans', Arial, Helvetica, sans-serif" font-size="20.7">2</text>
<text x="117.85" y="716.4" font-family="'Liberation Sans', Arial, Helvetica, sans-serif" font-size="29.6">0</text>
<text x="258.91" y="716.4" font-family="'Liberation Sans', Arial, Helvetica, sans-serif" font-size="29.6">20</text>
<text x="408.72" y="716.4" font-family="'Liberation Sans', Arial, Helvetica, sans-serif" font-size="29.6">40</text>
<text x="557.77" y="716.4" font-family="'Liberation Sans', Arial, Helvetica, sans-serif" font-size="29.6">60</text>
<text x="707.33" y="716.4" font-family="'Liberation Sans', Arial, Helvetica, sans-serif" font-size="29.6">80</text>
<text x="848.02" y="716.4" font-family="'Liberation Sans', Arial, Helvetica, sans-serif" font-size="29.6">100</text>
<text x="997.45" y="716.4" font-family="'Liberation Sans', Arial, Helvetica, sans-serif" font-size="29.6">120</text>
<text x="1190.55" y="716.4" font-family="'Liberation Sans', Arial, Helvetica, sans-serif" font-size="29.6">0</text>
<text x="1331.64" y="716.4" font-family="'Liberation Sans', Arial, Helvetica, sans-serif" font-size="29.6">20</text>
<text x="1481.48" y="716.4" font-family="'Liberation Sans', Arial, Helvetica, sans-serif" font-size="29.6">40</text>
<text x="1630.57" y="716.4" font-family="'Liberation Sans', Arial, Helvetica, sans-serif" font-size="29.6">60</text>
<text x="1780.17" y="716.4" font-family="'Liberation Sans', Arial, Helvetica, sans-serif" font-size="29.6">80</text>
<text x="1920.88" y="716.4" font-family="'Liberation Sans', Arial, Helvetica, sans-serif" font-size="29.6">100</text>
<text x="2070.35" y="716.4" font-family="'Liberation Sans', Arial, Helvetica, sans-serif" font-size="29.6">120</text>
<text x="146.23" y="1531.6" font-family="'Liberation Sans', Arial, Helvetica, sans-serif" font-size="29.6">0.0</text>
<text x="309.37" y="1531.6" font-family="'Liberation Sans', Arial, Helvetica, sans-serif" font-size="29.6">0.2</text>
<text x="472.14" y="1531.6" font-family="'Liberation Sans', Arial, Helvetica, sans-serif" font-size="29.6">0.4</text>
<text x="635.41" y="1531.6" font-family="'Liberation Sans', Arial, Helvetica, sans-serif" font-size="29.6">0.6</text>
<text x="798.43" y="1531.6" font-family="'Liberation Sans', Arial, Helvetica, sans-serif" font-size="29.6">0.8</text>
<text x="960.82" y="1531.6" font-family="'Liberation Sans', Arial, Helvetica, sans-serif" font-size="29.6">1.0</text>
<text x="1169.92" y="1531.6" font-family="'Liberation Sans', Arial, Helvetica, sans-serif" font-size="29.6">0.90</text>
<text x="1333.23" y="1531.6" font-family="'Liberation Sans', Arial, Helvetica, sans-serif" font-size="29.6">0.92</text>
<text x="1495.91" y="1531.6" font-family="'Liberation Sans', Arial, Helvetica, sans-serif" font-size="29.6">0.94</text>
<text x="1659.21" y="1531.6" font-family="'Liberation Sans', Arial, Helvetica, sans-serif" font-size="29.6">0.96</text>
<text x="1822.27" y="1531.6" font-family="'Liberation Sans', Arial, Helvetica, sans-serif" font-size="29.6">0.98</text>
<text x="1984.7" y="1531.6" font-family="'Liberation Sans', Arial, Helvetica, sans-serif" font-size="29.6">1.00</text>
<text x="92.85" y="1504.4" font-family="'Liberation Sans', Arial, Helvetica, sans-serif" font-size="29.6">0</text>
<text x="76.35" y="1400.93" font-family="'Liberation Sans', Arial, Helvetica, sans-serif" font-size="29.6">20</text>
<text x="76.35" y="1297.47" font-family="'Liberation Sans', Arial, Helvetica, sans-serif" font-size="29.6">40</text>
<text x="76.35" y="1194" font-family="'Liberation Sans', Arial, Helvetica, sans-serif" font-size="29.6">60</text>
<text x="76.35" y="1090.53" font-family="'Liberation Sans', Arial, Helvetica, sans-serif" font-size="29.6">80</text>
<text x="59.85" y="987.07" font-family="'Liberation Sans', Arial, Helvetica, sans-serif" font-size="29.6">100</text>
<text x="59.85" y="883.6" font-family="'Liberation Sans', Arial, Helvetica, sans-serif" font-size="29.6">120</text>
<text x="1165.55" y="1504.4" font-family="'Liberation Sans', Arial, Helvetica, sans-serif" font-size="29.6">0</text>
<text x="1149.05" y="1400.93" font-family="'Liberation Sans', Arial, Helvetica, sans-serif" font-size="29.6">20</text>
<text x="1149.05" y="1297.47" font-family="'Liberation Sans', Arial, Helvetica, sans-serif" font-size="29.6">40</text>
<text x="1149.05" y="1194" font-family="'Liberation Sans', Arial, Helvetica, sans-serif" font-size="29.6">60</text>
<text x="1149.05" y="1090.53" font-family="'Liberation Sans', Arial, Helvetica, sans-serif" font-size="29.6">80</text>
<text x="1132.55" y="987.07" font-family="'Liberation Sans', Arial, Helvetica, sans-serif" font-size="29.6">100</text>
<text x="1132.55" y="883.6" font-family="'Liberation Sans', Arial, Helvetica, sans-serif" font-size="29.6">120</text>
<text x="360.05" y="766" font-family="'Liberation Sans', Arial, Helvetica, sans-serif" font-size="29.6">Measured 2D velocities [km s</text>
<text x="747.5" y="754.8" font-family="'DejaVu Sans', 'Liberation Sans', sans-serif" font-size="20.6">−</text>
<text x="766" y="754.8" font-family="'DejaVu Sans', 'Liberation Sans', sans-serif" font-size="20.6">1</text>
<text x="780" y="766" font-family="'Liberation Sans', Arial, Helvetica, sans-serif" font-size="29.6">]</text>
<text x="1433.25" y="766" font-family="'Liberation Sans', Arial, Helvetica, sans-serif" font-size="29.6">Measured 2D velocities [km s</text>
<text x="1820.7" y="754.8" font-family="'DejaVu Sans', 'Liberation Sans', sans-serif" font-size="20.6">−</text>
<text x="1839.2" y="754.8" font-family="'DejaVu Sans', 'Liberation Sans', sans-serif" font-size="20.6">1</text>
<text x="1853.2" y="766" font-family="'Liberation Sans', Arial, Helvetica, sans-serif" font-size="29.6">]</text>
<text x="-214.35" y="0" font-family="'Liberation Sans', Arial, Helvetica, sans-serif" font-size="29.6" transform="translate(31.2 1183.4) rotate(-90)">Measured 2D velocities [km s</text>
<text x="173.1" y="-11.2" font-family="'DejaVu Sans', 'Liberation Sans', sans-serif" font-size="20.6" transform="translate(31.2 1183.4) rotate(-90)">−</text>
<text x="191.6" y="-11.2" font-family="'DejaVu Sans', 'Liberation Sans', sans-serif" font-size="20.6" transform="translate(31.2 1183.4) rotate(-90)">1</text>
<text x="205.6" y="0" font-family="'Liberation Sans', Arial, Helvetica, sans-serif" font-size="29.6" transform="translate(31.2 1183.4) rotate(-90)">]</text>
<text x="-214.35" y="0" font-family="'Liberation Sans', Arial, Helvetica, sans-serif" font-size="29.6" transform="translate(1103.9 1183.4) rotate(-90)">Measured 2D velocities [km s</text>
<text x="173.1" y="-11.2" font-family="'DejaVu Sans', 'Liberation Sans', sans-serif" font-size="20.6" transform="translate(1103.9 1183.4) rotate(-90)">−</text>
<text x="191.6" y="-11.2" font-family="'DejaVu Sans', 'Liberation Sans', sans-serif" font-size="20.6" transform="translate(1103.9 1183.4) rotate(-90)">1</text>
<text x="205.6" y="0" font-family="'Liberation Sans', Arial, Helvetica, sans-serif" font-size="29.6" transform="translate(1103.9 1183.4) rotate(-90)">]</text>
<text x="463.95" y="1575.4" font-family="'Liberation Sans', Arial, Helvetica, sans-serif" font-size="29.6">Relative Fraction</text>
<text x="1536.65" y="1575.4" font-family="'Liberation Sans', Arial, Helvetica, sans-serif" font-size="29.6">Relative Fraction</text>
<text x="-8.12" y="0" font-family="'Liberation Sans', Arial, Helvetica, sans-serif" font-size="29.6" transform="translate(27.3 368.25) rotate(-90)">#</text>
<text x="-8.12" y="0" font-family="'Liberation Sans', Arial, Helvetica, sans-serif" font-size="29.6" transform="translate(1100 368.25) rotate(-90)">#</text>
<text x="1764.08" y="105" font-family="'Liberation Sans', Arial, Helvetica, sans-serif" font-size="29.6" textLength="270.86" lengthAdjust="spacingAndGlyphs">Simulated Distr. with</text>
<text x="1764.6" y="143" font-family="'DejaVu Sans', 'Liberation Sans', sans-serif" font-size="29.4" font-style="italic">σ</text>
<text x="1785.05" y="148.4" font-family="'DejaVu Sans', 'Liberation Sans', sans-serif" font-size="20.6">1D</text>
<text x="1819.7" y="143" font-family="'DejaVu Sans', 'Liberation Sans', sans-serif" font-size="29.4">=</text>
<text x="1849.4" y="143" font-family="'DejaVu Sans', 'Liberation Sans', sans-serif" font-size="29.4">(</text>
<text x="1861.95" y="143" font-family="'DejaVu Sans', 'Liberation Sans', sans-serif" font-size="29.4">20</text>
<text x="1904.6" y="143" font-family="'DejaVu Sans', 'Liberation Sans', sans-serif" font-size="29.4">±</text>
<text x="1935.35" y="143" font-family="'DejaVu Sans', 'Liberation Sans', sans-serif" font-size="29.4">3</text>
<text x="1954.1" y="143" font-family="'DejaVu Sans', 'Liberation Sans', sans-serif" font-size="29.4">)</text>
<text x="1973.6" y="143" font-family="'DejaVu Sans', 'Liberation Sans', sans-serif" font-size="29.4" textLength="39.91" lengthAdjust="spacingAndGlyphs">km</text>
<text x="2021" y="143" font-family="'DejaVu Sans', 'Liberation Sans', sans-serif" font-size="29.4">s</text>
<text x="2037.05" y="132.5" font-family="'DejaVu Sans', 'Liberation Sans', sans-serif" font-size="20.6">−</text>
<text x="2055.55" y="132.5" font-family="'DejaVu Sans', 'Liberation Sans', sans-serif" font-size="20.6">1</text>
<text x="1764.6" y="197.5" font-family="'DejaVu Sans', 'Liberation Sans', sans-serif" font-size="29.4">v</text>
<text x="1779.35" y="201" font-family="'DejaVu Sans', 'Liberation Sans', sans-serif" font-size="20.6">esc.</text>
<text x="1825.9" y="197.5" font-family="'Liberation Sans', Arial, Helvetica, sans-serif" font-size="29.6">=62 km s</text>
<text x="1947.25" y="185.1" font-family="'DejaVu Sans', 'Liberation Sans', sans-serif" font-size="20.6">−</text>
<text x="1965.75" y="185.1" font-family="'DejaVu Sans', 'Liberation Sans', sans-serif" font-size="20.6">1</text>
<text x="249" y="1154.8" font-family="'DejaVu Sans', 'Liberation Sans', sans-serif" font-size="29.4" style="fill:#f20d0d;stroke:#f20d0d">v</text>
<text x="264.05" y="1158.6" font-family="'DejaVu Sans', 'Liberation Sans', sans-serif" font-size="20.6" style="fill:#f20d0d;stroke:#f20d0d">esc.</text>
<text x="315.6" y="1154.8" font-family="'DejaVu Sans', 'Liberation Sans', sans-serif" font-size="29.4" style="fill:#f20d0d;stroke:#f20d0d">=</text>
<text x="345.71" y="1154.8" font-family="'DejaVu Sans', 'Liberation Sans', sans-serif" font-size="29.4" style="fill:#f20d0d;stroke:#f20d0d" textLength="78.51" lengthAdjust="spacingAndGlyphs">62km</text>
<text x="430.3" y="1154.8" font-family="'DejaVu Sans', 'Liberation Sans', sans-serif" font-size="29.4" style="fill:#f20d0d;stroke:#f20d0d">s</text>
<text x="445.35" y="1142.6" font-family="'DejaVu Sans', 'Liberation Sans', sans-serif" font-size="20.6" style="fill:#f20d0d;stroke:#f20d0d">−</text>
<text x="463.85" y="1142.6" font-family="'DejaVu Sans', 'Liberation Sans', sans-serif" font-size="20.6" style="fill:#f20d0d;stroke:#f20d0d">1</text>
<text x="1279.9" y="1154.8" font-family="'DejaVu Sans', 'Liberation Sans', sans-serif" font-size="29.4" style="fill:#f20d0d;stroke:#f20d0d">v</text>
<text x="1294.95" y="1158.6" font-family="'DejaVu Sans', 'Liberation Sans', sans-serif" font-size="20.6" style="fill:#f20d0d;stroke:#f20d0d">esc.</text>
<text x="1346.5" y="1154.8" font-family="'DejaVu Sans', 'Liberation Sans', sans-serif" font-size="29.4" style="fill:#f20d0d;stroke:#f20d0d">=</text>
<text x="1376.61" y="1154.8" font-family="'DejaVu Sans', 'Liberation Sans', sans-serif" font-size="29.4" style="fill:#f20d0d;stroke:#f20d0d" textLength="78.51" lengthAdjust="spacingAndGlyphs">62km</text>
<text x="1461.2" y="1154.8" font-family="'DejaVu Sans', 'Liberation Sans', sans-serif" font-size="29.4" style="fill:#f20d0d;stroke:#f20d0d">s</text>
<text x="1476.25" y="1142.6" font-family="'DejaVu Sans', 'Liberation Sans', sans-serif" font-size="20.6" style="fill:#f20d0d;stroke:#f20d0d">−</text>
<text x="1494.75" y="1142.6" font-family="'DejaVu Sans', 'Liberation Sans', sans-serif" font-size="20.6" style="fill:#f20d0d;stroke:#f20d0d">1</text>
<rect x="141.1" y="887.9" width="398.2" height="178.7" rx="4.6" ry="4.6" fill="#fff" fill-opacity="0.8" stroke="#ccc" stroke-opacity="0.8" stroke-width="4.1"/>
<path d="M153 910.4h59.2" stroke="#1f77b4" stroke-width="4.3" stroke-linecap="square" fill="none"/>
<path d="M153 952.4h59.2" stroke="#ff7f0e" stroke-width="4.3" stroke-linecap="square" fill="none"/>
<path d="M153 1019.4h59.2" stroke="#000" stroke-width="4.3" stroke-linecap="square" fill="none"/>
<text x="223.25" y="921.1" font-family="'Liberation Sans', Arial, Helvetica, sans-serif" font-size="29.6">0" &lt; r &lt; 3"</text>
<text x="223.25" y="962.4" font-family="'Liberation Sans', Arial, Helvetica, sans-serif" font-size="29.6">3" &lt; r &lt; 10"</text>
<text x="222.98" y="1005.1" font-family="'Liberation Sans', Arial, Helvetica, sans-serif" font-size="29.6" textLength="270.86" lengthAdjust="spacingAndGlyphs">Simulated Distr. with</text>
<text x="223.5" y="1043.1" font-family="'DejaVu Sans', 'Liberation Sans', sans-serif" font-size="29.4" font-style="italic">σ</text>
<text x="243.95" y="1048.5" font-family="'DejaVu Sans', 'Liberation Sans', sans-serif" font-size="20.6">1D</text>
<text x="278.6" y="1043.1" font-family="'DejaVu Sans', 'Liberation Sans', sans-serif" font-size="29.4">=</text>
<text x="308.3" y="1043.1" font-family="'DejaVu Sans', 'Liberation Sans', sans-serif" font-size="29.4">(</text>
<text x="320.85" y="1043.1" font-family="'DejaVu Sans', 'Liberation Sans', sans-serif" font-size="29.4">20</text>
<text x="363.5" y="1043.1" font-family="'DejaVu Sans', 'Liberation Sans', sans-serif" font-size="29.4">±</text>
<text x="394.25" y="1043.1" font-family="'DejaVu Sans', 'Liberation Sans', sans-serif" font-size="29.4">3</text>
<text x="413" y="1043.1" font-family="'DejaVu Sans', 'Liberation Sans', sans-serif" font-size="29.4">)</text>
<text x="432.5" y="1043.1" font-family="'DejaVu Sans', 'Liberation Sans', sans-serif" font-size="29.4" textLength="39.91" lengthAdjust="spacingAndGlyphs">km</text>
<text x="479.9" y="1043.1" font-family="'DejaVu Sans', 'Liberation Sans', sans-serif" font-size="29.4">s</text>
<text x="495.95" y="1032.6" font-family="'DejaVu Sans', 'Liberation Sans', sans-serif" font-size="20.6">−</text>
<text x="514.45" y="1032.6" font-family="'DejaVu Sans', 'Liberation Sans', sans-serif" font-size="20.6">1</text>
<rect x="1213.8" y="887.9" width="398.2" height="178.7" rx="4.6" ry="4.6" fill="#fff" fill-opacity="0.8" stroke="#ccc" stroke-opacity="0.8" stroke-width="4.1"/>
<path d="M1225.7 910.4h59.2" stroke="#1f77b4" stroke-width="4.3" stroke-dasharray="15.61 6.76" fill="none"/>
<circle cx="1255.3" cy="910.4" r="8.6" fill="#1f77b4"/>
<path d="M1225.7 952.4h59.2" stroke="#ff7f0e" stroke-width="4.3" stroke-dasharray="15.61 6.76" fill="none"/>
<circle cx="1255.3" cy="952.4" r="8.6" fill="#ff7f0e"/>
<path d="M1225.7 1019.4h59.2" stroke="#000" stroke-width="4.3" stroke-linecap="square" fill="none"/>
<text x="1295.95" y="921.1" font-family="'Liberation Sans', Arial, Helvetica, sans-serif" font-size="29.6">0" &lt; r &lt; 3"</text>
<text x="1295.95" y="962.4" font-family="'Liberation Sans', Arial, Helvetica, sans-serif" font-size="29.6">3" &lt; r &lt; 10"</text>
<text x="1295.68" y="1005.1" font-family="'Liberation Sans', Arial, Helvetica, sans-serif" font-size="29.6" textLength="270.86" lengthAdjust="spacingAndGlyphs">Simulated Distr. with</text>
<text x="1296.2" y="1043.1" font-family="'DejaVu Sans', 'Liberation Sans', sans-serif" font-size="29.4" font-style="italic">σ</text>
<text x="1316.65" y="1048.5" font-family="'DejaVu Sans', 'Liberation Sans', sans-serif" font-size="20.6">1D</text>
<text x="1351.3" y="1043.1" font-family="'DejaVu Sans', 'Liberation Sans', sans-serif" font-size="29.4">=</text>
<text x="1381" y="1043.1" font-family="'DejaVu Sans', 'Liberation Sans', sans-serif" font-size="29.4">(</text>
<text x="1393.55" y="1043.1" font-family="'DejaVu Sans', 'Liberation Sans', sans-serif" font-size="29.4">20</text>
<text x="1436.2" y="1043.1" font-family="'DejaVu Sans', 'Liberation Sans', sans-serif" font-size="29.4">±</text>
<text x="1466.95" y="1043.1" font-family="'DejaVu Sans', 'Liberation Sans', sans-serif" font-size="29.4">3</text>
<text x="1485.7" y="1043.1" font-family="'DejaVu Sans', 'Liberation Sans', sans-serif" font-size="29.4">)</text>
<text x="1505.2" y="1043.1" font-family="'DejaVu Sans', 'Liberation Sans', sans-serif" font-size="29.4" textLength="39.91" lengthAdjust="spacingAndGlyphs">km</text>
<text x="1552.6" y="1043.1" font-family="'DejaVu Sans', 'Liberation Sans', sans-serif" font-size="29.4">s</text>
<text x="1568.65" y="1032.6" font-family="'DejaVu Sans', 'Liberation Sans', sans-serif" font-size="20.6">−</text>
<text x="1587.15" y="1032.6" font-family="'DejaVu Sans', 'Liberation Sans', sans-serif" font-size="20.6">1</text>
</svg></body></html>
